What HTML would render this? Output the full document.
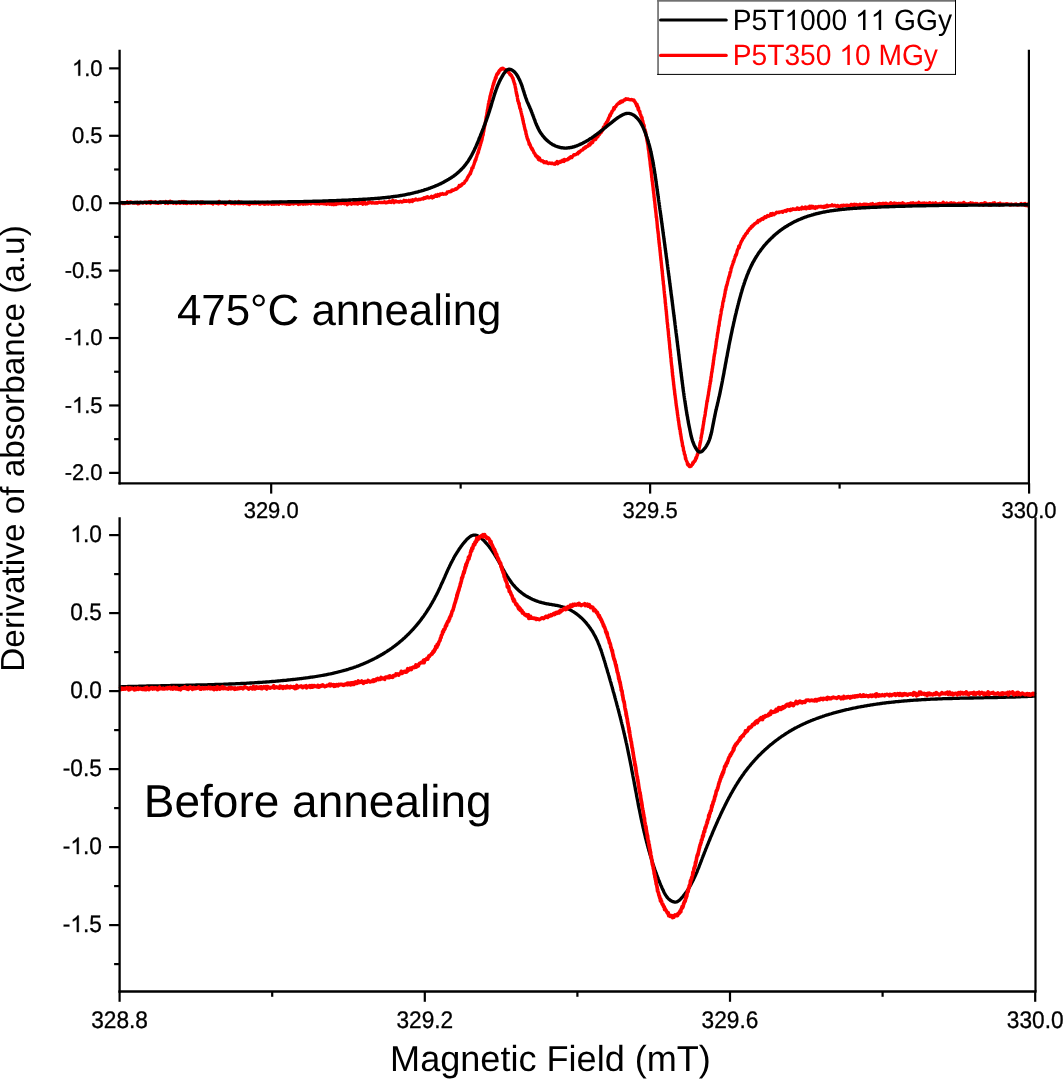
<!DOCTYPE html>
<html><head><meta charset="utf-8"><title>EPR spectra</title>
<style>
html,body{margin:0;padding:0;background:#fff;}
body{width:1063px;height:1079px;overflow:hidden;font-family:"Liberation Sans", sans-serif;}
svg{display:block;will-change:transform;}
text{font-kerning:none;font-feature-settings:"kern" 0;text-rendering:geometricPrecision;}
</style></head><body>
<svg width="1063" height="1079" viewBox="0 0 1063 1079" font-family='"Liberation Sans", sans-serif' fill="#000"><path d="M119.0,202.9L119.7,203.3L120.4,202.9L121.1,202.8L121.8,202.4L122.5,202.8L123.2,203.5L123.9,203.2L124.6,203.5L125.3,203.0L126.0,203.1L126.7,203.0L127.4,201.9L128.1,203.3L128.8,203.1L129.5,203.1L130.2,201.9L130.9,201.9L131.6,202.3L132.3,202.5L133.0,203.0L133.7,202.8L134.4,203.1L135.1,202.4L135.8,202.9L136.5,203.0L137.2,202.4L137.9,203.7L138.6,203.0L139.3,203.4L140.0,202.4L140.7,202.3L141.4,202.5L142.1,202.6L142.8,203.0L143.5,202.8L144.2,202.4L144.9,202.1L145.6,202.4L146.3,203.3L147.0,202.2L147.7,202.8L148.4,202.9L149.1,201.8L149.8,202.7L150.5,203.4L151.2,201.5L151.9,202.4L152.6,202.6L153.3,202.2L154.0,202.9L154.7,202.6L155.4,201.8L156.1,203.1L156.8,203.0L157.5,203.1L158.2,203.4L158.9,202.8L159.6,202.7L160.3,201.9L161.0,202.9L161.7,202.3L162.4,202.3L163.1,201.9L163.8,202.1L164.5,202.3L165.2,203.3L165.9,201.5L166.6,201.8L167.3,202.7L168.0,203.4L168.7,202.9L169.4,201.5L170.1,201.2L170.8,202.8L171.5,202.2L172.2,202.0L172.9,203.1L173.6,203.2L174.3,202.7L175.0,202.7L175.7,202.8L176.4,203.5L177.1,202.9L177.8,202.9L178.5,202.9L179.2,201.7L179.9,203.3L180.6,203.1L181.3,202.9L182.0,201.5L182.7,202.3L183.4,203.1L184.1,201.6L184.8,202.5L185.5,203.2L186.2,201.9L186.9,203.5L187.6,202.9L188.4,202.5L189.1,202.8L189.8,203.0L190.5,202.7L191.2,203.3L191.9,202.3L192.6,202.4L193.3,203.2L194.0,202.7L194.7,202.2L195.4,203.2L196.1,203.5L196.8,202.4L197.5,201.9L198.2,202.6L198.9,202.6L199.6,202.5L200.3,203.5L201.0,202.1L201.7,203.4L202.4,202.0L203.1,202.3L203.8,203.1L204.5,203.3L205.2,203.2L205.9,202.9L206.6,202.8L207.3,202.8L208.0,203.1L208.7,202.7L209.4,202.9L210.1,203.1L210.8,202.8L211.5,203.2L212.2,203.1L212.9,203.9L213.6,203.0L214.3,202.6L215.0,202.6L215.7,202.8L216.4,203.3L217.1,202.6L217.8,203.0L218.5,203.8L219.2,201.4L219.9,202.2L220.6,203.0L221.3,203.1L222.0,203.0L222.7,202.6L223.4,203.2L224.1,203.0L224.8,202.6L225.5,204.2L226.2,203.1L226.9,202.6L227.6,202.9L228.3,202.8L229.0,202.9L229.7,201.5L230.4,202.7L231.1,203.5L231.8,202.3L232.5,202.9L233.2,203.5L233.9,203.4L234.6,203.8L235.3,202.1L236.0,202.8L236.7,202.8L237.4,203.4L238.1,203.6L238.8,201.6L239.5,203.6L240.2,202.2L240.9,203.4L241.6,202.2L242.3,203.2L243.0,203.7L243.7,203.0L244.4,203.2L245.1,203.5L245.8,203.2L246.5,203.0L247.2,203.9L247.9,203.7L248.6,203.0L249.3,204.6L250.0,202.5L250.7,203.6L251.4,203.0L252.1,203.2L252.8,203.5L253.5,203.3L254.2,203.5L254.9,202.3L255.6,202.4L256.3,203.5L257.0,202.7L257.7,202.6L258.4,202.4L259.1,203.9L259.8,203.6L260.5,204.0L261.2,202.7L261.9,203.2L262.6,202.6L263.3,203.7L264.0,204.1L264.7,202.8L265.4,204.1L266.1,203.8L266.8,203.2L267.5,202.2L268.2,204.1L268.9,203.2L269.6,203.0L270.3,203.5L271.0,203.5L271.7,204.1L272.4,202.8L273.1,204.0L273.8,204.2L274.5,204.1L275.2,203.2L275.9,202.9L276.6,203.9L277.3,203.4L278.0,203.4L278.7,204.2L279.4,203.2L280.1,202.1L280.8,203.2L281.5,202.4L282.2,203.8L282.9,203.6L283.6,203.1L284.3,203.4L285.0,203.9L285.7,203.5L286.4,204.1L287.1,203.4L287.8,204.0L288.5,204.2L289.2,204.3L289.9,203.1L290.6,203.9L291.3,202.4L292.0,202.9L292.7,202.4L293.4,204.0L294.1,202.8L294.8,203.5L295.5,203.4L296.2,203.4L296.9,203.1L297.6,203.6L298.3,204.5L299.0,203.5L299.7,203.8L300.4,204.0L301.1,203.4L301.8,202.8L302.5,203.2L303.2,204.1L303.9,202.6L304.6,203.2L305.3,204.0L306.0,203.9L306.7,203.5L307.4,203.9L308.1,203.6L308.8,202.8L309.5,202.6L310.2,203.1L310.9,204.0L311.6,203.2L312.3,203.0L313.0,203.1L313.7,202.6L314.4,203.4L315.1,202.8L315.8,203.7L316.5,202.2L317.2,203.7L317.9,203.1L318.6,202.4L319.3,203.9L320.0,203.3L320.7,202.2L321.4,203.0L322.1,203.6L322.8,203.2L323.5,203.9L324.2,203.9L324.9,203.8L325.6,203.6L326.3,204.2L327.0,203.8L327.7,203.7L328.4,202.3L329.1,203.9L329.8,204.2L330.5,203.3L331.2,203.2L331.9,204.5L332.6,202.5L333.3,203.7L334.0,204.7L334.7,202.9L335.4,203.8L336.1,204.4L336.8,203.3L337.5,203.7L338.2,203.9L338.9,202.9L339.6,203.3L340.3,203.5L341.0,203.8L341.7,203.3L342.4,203.2L343.1,202.8L343.8,203.1L344.5,203.8L345.2,203.4L345.9,202.8L346.6,202.8L347.3,204.7L348.0,203.9L348.7,203.6L349.4,201.8L350.1,203.6L350.8,203.5L351.5,204.1L352.2,203.4L352.9,203.2L353.6,203.5L354.3,202.1L355.0,203.7L355.7,203.3L356.4,202.8L357.1,203.9L357.8,204.1L358.5,202.3L359.2,202.7L359.9,203.2L360.6,203.2L361.3,202.8L362.0,202.5L362.7,204.2L363.4,203.6L364.1,202.3L364.8,202.2L365.5,203.9L366.2,203.5L366.9,203.9L367.6,203.4L368.3,202.4L369.0,203.0L369.7,201.7L370.4,202.4L371.1,202.8L371.8,203.1L372.5,202.4L373.2,202.7L373.9,203.0L374.6,202.9L375.3,203.1L376.0,202.8L376.7,202.5L377.4,203.1L378.1,202.6L378.8,202.1L379.5,202.2L380.2,202.5L380.9,202.4L381.6,202.6L382.3,202.4L383.0,202.5L383.7,202.3L384.4,201.7L385.1,202.5L385.8,202.9L386.5,202.5L387.2,202.1L387.9,202.4L388.6,201.6L389.3,201.0L390.0,202.1L390.7,201.5L391.4,202.4L392.1,201.3L392.8,200.4L393.5,201.3L394.2,202.6L394.9,201.5L395.6,200.9L396.3,201.2L397.0,201.9L397.7,201.8L398.4,201.6L399.1,202.2L399.8,201.7L400.5,201.3L401.2,201.6L401.9,202.1L402.6,201.6L403.3,201.6L404.0,200.4L404.7,200.8L405.4,201.3L406.1,200.6L406.8,201.3L407.5,201.0L408.1,201.1L408.8,200.4L409.5,201.8L410.2,201.0L410.9,200.1L411.6,200.2L412.3,201.5L413.0,199.8L413.7,200.4L414.4,200.4L415.1,199.7L415.8,199.0L416.5,199.7L417.2,199.7L417.8,200.0L418.5,199.7L419.2,199.2L419.9,199.5L420.6,199.3L421.3,199.0L422.0,198.8L422.7,198.5L423.4,198.9L424.1,197.8L424.7,197.9L425.4,198.2L426.1,197.3L426.8,197.7L427.5,196.7L428.2,197.3L428.9,197.9L429.6,197.7L430.2,197.3L430.9,197.0L431.6,196.2L432.3,197.9L433.0,197.0L433.7,197.2L434.3,196.0L435.0,196.2L435.7,195.1L436.4,196.4L437.1,196.3L437.8,194.6L438.4,195.5L439.1,195.7L439.8,194.2L440.5,193.9L441.1,194.2L441.8,194.2L442.5,193.6L443.2,194.2L443.8,194.1L444.5,194.1L445.2,193.9L445.9,194.1L446.5,193.7L447.2,192.1L447.9,192.3L448.5,191.8L449.2,191.5L449.9,191.8L450.5,191.6L451.2,191.6L451.8,190.1L452.5,190.0L453.1,190.4L453.8,190.0L454.4,189.6L455.0,189.5L455.6,188.7L456.3,189.2L456.9,188.7L457.5,188.1L458.1,187.4L458.6,187.3L459.2,185.6L459.8,186.0L460.3,186.2L460.9,184.9L461.4,185.4L461.9,185.0L462.5,183.7L463.0,183.8L463.4,183.3L463.9,183.3L464.4,182.8L464.8,182.0L465.2,181.0L465.7,180.8L466.1,180.3L466.5,180.2L466.8,179.4L467.2,178.3L467.6,177.3L467.9,177.3L468.3,176.5L468.6,175.7L468.9,175.6L469.3,174.8L469.6,174.5L469.9,174.1L470.2,172.9L470.5,173.8L470.8,171.7L471.0,171.8L471.3,170.6L471.6,170.5L471.9,167.9L472.1,168.2L472.4,168.0L472.7,167.6L472.9,167.9L473.2,166.1L473.4,166.0L473.7,165.0L474.0,164.5L474.2,163.6L474.5,162.5L474.7,162.2L475.0,160.7L475.2,161.3L475.4,159.4L475.7,159.4L475.9,159.8L476.2,157.8L476.4,157.3L476.6,157.2L476.9,155.9L477.1,154.8L477.3,154.7L477.5,154.2L477.8,153.6L478.0,152.2L478.2,152.9L478.4,152.2L478.6,150.6L478.8,150.0L479.0,149.0L479.2,149.3L479.5,147.5L479.7,147.6L479.9,146.3L480.0,145.5L480.2,145.6L480.4,145.2L480.6,143.8L480.8,142.8L481.0,142.9L481.2,141.8L481.4,141.3L481.5,141.3L481.7,140.4L481.9,138.8L482.0,139.7L482.2,137.8L482.4,137.5L482.5,136.1L482.7,135.7L482.9,134.1L483.0,135.4L483.2,134.5L483.3,132.4L483.5,131.5L483.6,130.8L483.7,131.7L483.9,130.1L484.0,129.6L484.1,128.8L484.3,128.2L484.4,127.0L484.5,127.0L484.7,125.5L484.8,125.5L484.9,125.1L485.0,124.5L485.2,123.4L485.3,122.4L485.4,122.3L485.5,121.2L485.6,121.7L485.8,120.6L485.9,119.4L486.0,118.5L486.1,117.7L486.2,116.9L486.3,116.6L486.5,116.2L486.6,115.7L486.7,115.0L486.8,115.2L486.9,113.0L487.0,112.7L487.2,113.4L487.3,110.3L487.4,110.3L487.5,110.0L487.6,109.3L487.8,108.8L487.9,107.7L488.0,107.4L488.1,106.5L488.3,106.2L488.4,104.1L488.5,103.9L488.6,103.7L488.8,102.5L488.9,101.8L489.0,102.0L489.2,100.6L489.3,100.6L489.5,100.0L489.6,99.1L489.8,98.5L489.9,97.5L490.1,96.1L490.2,96.1L490.4,95.7L490.6,94.5L490.7,94.0L490.9,93.8L491.1,92.2L491.2,92.3L491.4,92.3L491.6,90.3L491.8,90.0L492.0,89.1L492.2,89.3L492.4,88.0L492.6,87.6L492.8,86.0L493.0,85.7L493.2,85.0L493.5,83.3L493.7,84.4L493.9,83.4L494.2,81.2L494.4,81.9L494.6,80.7L494.9,80.3L495.1,79.5L495.4,77.8L495.7,77.8L496.0,78.0L496.2,76.2L496.5,75.2L496.8,74.4L497.1,73.8L497.4,74.0L497.8,74.1L498.1,72.8L498.4,72.1L498.8,72.7L499.2,70.7L499.6,70.2L500.0,70.4L500.4,70.1L500.8,68.9L501.3,68.6L501.8,69.3L502.2,69.1L502.8,68.2L503.3,68.9L503.8,68.8L504.4,69.5L505.0,69.5L505.5,69.8L506.1,70.0L506.7,71.1L507.2,71.7L507.7,71.2L508.2,72.3L508.7,71.9L509.2,72.9L509.6,73.7L510.0,74.7L510.4,74.2L510.8,74.9L511.2,75.7L511.5,75.3L511.9,76.8L512.2,77.0L512.5,78.2L512.8,78.0L513.0,78.2L513.3,80.0L513.5,80.8L513.8,81.0L514.0,82.5L514.2,82.6L514.4,83.1L514.6,84.4L514.8,84.0L515.0,85.3L515.2,86.4L515.3,87.6L515.5,87.8L515.6,88.8L515.8,89.0L515.9,90.2L516.1,91.7L516.2,91.2L516.4,93.6L516.5,92.7L516.7,93.8L516.8,94.6L516.9,95.8L517.1,95.3L517.2,95.5L517.4,97.7L517.5,98.5L517.7,99.1L517.8,100.9L518.0,100.3L518.2,101.0L518.3,102.0L518.5,102.4L518.7,103.7L518.8,102.8L519.0,103.9L519.2,103.4L519.3,105.9L519.5,105.9L519.7,107.3L519.9,108.6L520.0,108.1L520.2,108.6L520.4,109.1L520.6,109.5L520.7,110.3L520.9,111.6L521.1,112.0L521.2,112.6L521.4,113.2L521.6,114.4L521.7,114.8L521.9,115.2L522.0,116.3L522.2,116.5L522.3,116.6L522.5,118.7L522.6,118.9L522.8,118.8L522.9,120.6L523.1,120.8L523.2,120.5L523.4,122.9L523.5,122.9L523.7,123.9L523.8,124.2L524.0,124.7L524.1,124.6L524.3,126.7L524.4,126.8L524.6,127.4L524.8,128.4L524.9,128.9L525.1,130.0L525.3,130.1L525.4,130.9L525.6,130.5L525.8,132.1L526.0,133.4L526.1,134.4L526.3,134.2L526.5,135.0L526.7,136.6L526.9,136.3L527.1,137.5L527.3,138.7L527.5,138.5L527.8,139.8L528.0,139.4L528.2,140.6L528.5,141.1L528.7,141.9L529.0,143.1L529.2,144.4L529.5,143.4L529.8,144.1L530.0,145.3L530.3,145.1L530.6,146.6L530.9,147.3L531.2,147.5L531.5,148.5L531.9,148.0L532.2,149.9L532.5,149.3L532.9,150.3L533.3,151.0L533.6,151.7L534.0,153.0L534.4,153.2L534.8,153.5L535.2,154.6L535.6,155.7L536.1,155.4L536.5,156.1L537.0,157.2L537.4,157.2L537.9,156.8L538.4,159.4L538.9,159.7L539.4,157.9L539.9,159.4L540.5,160.1L541.0,160.8L541.6,161.0L542.2,160.9L542.7,160.8L543.3,161.8L543.9,162.6L544.5,161.7L545.2,162.0L545.8,162.7L546.5,161.9L547.1,163.0L547.8,163.0L548.5,163.6L549.2,163.1L549.9,163.0L550.6,163.3L551.4,163.5L552.1,163.1L552.8,163.5L553.5,163.8L554.2,164.0L554.9,164.2L555.7,162.7L556.4,162.8L557.1,161.5L557.8,163.7L558.5,162.1L559.1,162.3L559.8,162.4L560.5,161.2L561.2,162.0L561.8,161.5L562.5,160.2L563.1,161.2L563.8,161.4L564.4,159.4L565.1,160.6L565.7,160.0L566.4,159.8L567.0,159.5L567.6,159.7L568.3,158.5L568.9,158.8L569.5,157.8L570.1,158.0L570.7,156.8L571.3,156.9L571.9,157.5L572.5,156.5L573.1,155.8L573.7,154.9L574.3,154.7L574.9,154.9L575.5,154.9L576.1,154.3L576.7,154.0L577.3,153.3L577.9,153.7L578.4,152.3L579.0,151.8L579.6,152.2L580.2,151.4L580.7,150.8L581.3,150.3L581.9,150.0L582.4,150.1L583.0,149.5L583.6,148.3L584.1,148.7L584.7,148.2L585.3,147.1L585.8,147.7L586.4,146.7L586.9,146.2L587.4,146.4L588.0,146.2L588.5,144.7L589.1,144.8L589.6,143.7L590.1,144.9L590.6,142.9L591.2,143.4L591.7,141.9L592.2,142.2L592.7,142.5L593.2,139.4L593.7,140.1L594.2,140.1L594.7,139.3L595.2,138.5L595.7,139.5L596.2,137.9L596.6,136.4L597.1,137.3L597.6,135.3L598.0,136.4L598.5,134.9L598.9,134.8L599.4,134.8L599.8,133.6L600.2,132.3L600.6,131.5L601.1,132.6L601.5,131.7L601.9,130.3L602.3,130.7L602.7,129.9L603.0,129.4L603.4,127.2L603.8,127.7L604.2,127.7L604.5,127.0L604.9,126.5L605.2,124.0L605.5,124.8L605.9,124.4L606.2,124.9L606.5,122.3L606.8,122.0L607.1,121.6L607.5,121.4L607.8,120.0L608.1,120.2L608.4,118.5L608.7,118.5L609.0,117.4L609.3,117.1L609.6,116.0L609.9,114.9L610.3,115.7L610.6,114.6L610.9,113.5L611.2,113.3L611.6,113.1L611.9,111.4L612.3,111.3L612.6,111.0L613.0,110.4L613.4,109.4L613.8,107.8L614.2,109.1L614.6,108.0L615.0,107.3L615.5,106.6L615.9,106.4L616.4,105.5L616.9,104.6L617.4,104.3L617.9,103.9L618.4,103.4L619.0,102.7L619.6,103.2L620.1,101.7L620.7,102.4L621.4,101.1L622.0,101.5L622.6,101.7L623.3,100.7L623.9,99.9L624.6,100.1L625.2,99.9L625.9,98.7L626.5,99.1L627.2,99.4L627.8,99.0L628.5,99.2L629.1,99.6L629.7,99.6L630.3,99.8L630.9,99.7L631.4,99.4L632.0,99.7L632.5,99.8L633.0,100.1L633.5,100.6L634.0,100.1L634.4,101.3L634.8,102.0L635.2,102.0L635.6,103.1L636.0,104.0L636.3,104.2L636.6,106.1L637.0,104.2L637.3,106.2L637.6,105.9L637.9,108.2L638.2,109.8L638.5,107.7L638.7,109.8L639.0,110.7L639.3,111.0L639.6,112.1L639.8,111.3L640.1,113.7L640.3,114.1L640.6,114.6L640.8,115.0L641.1,116.3L641.3,116.4L641.5,117.5L641.7,117.8L642.0,117.5L642.2,119.4L642.4,120.3L642.6,121.3L642.8,121.0L643.0,122.2L643.2,123.3L643.4,123.7L643.6,125.0L643.8,126.1L643.9,125.2L644.1,125.3L644.3,127.5L644.5,128.6L644.6,129.0L644.8,129.6L645.0,129.5L645.1,130.1L645.3,131.7L645.4,131.4L645.6,131.6L645.7,132.7L645.9,135.3L646.0,135.7L646.1,135.0L646.3,135.6L646.4,136.9L646.5,137.0L646.7,138.8L646.8,138.8L646.9,138.9L647.0,140.9L647.1,140.5L647.3,141.7L647.4,142.2L647.5,142.8L647.6,143.8L647.7,143.9L647.8,144.0L647.9,144.5L648.0,145.7L648.1,146.6L648.2,147.7L648.3,148.5L648.4,149.4L648.5,149.9L648.6,150.1L648.7,150.8L648.8,150.7L648.9,152.5L649.0,153.5L649.1,154.2L649.2,154.6L649.2,155.2L649.3,156.5L649.4,156.7L649.5,157.8L649.6,158.4L649.7,158.9L649.8,160.2L649.8,159.8L649.9,160.6L650.0,161.1L650.1,161.8L650.2,163.8L650.3,164.6L650.3,164.3L650.4,165.3L650.5,166.3L650.6,166.8L650.7,167.7L650.7,167.0L650.8,168.1L650.9,169.4L651.0,170.6L651.1,170.6L651.2,170.7L651.2,171.7L651.3,172.2L651.4,172.8L651.5,174.8L651.6,174.3L651.6,175.4L651.7,177.2L651.8,177.4L651.9,177.6L652.0,177.8L652.0,179.0L652.1,180.4L652.2,180.5L652.3,181.6L652.4,181.6L652.5,182.6L652.5,182.8L652.6,183.9L652.7,185.1L652.8,184.2L652.9,185.7L652.9,186.6L653.0,186.8L653.1,187.6L653.2,188.9L653.3,190.3L653.3,190.2L653.4,190.8L653.5,190.4L653.6,193.0L653.6,192.7L653.7,193.3L653.8,193.4L653.9,194.7L654.0,194.8L654.0,196.2L654.1,197.1L654.2,197.5L654.3,198.4L654.4,198.4L654.4,200.4L654.5,199.9L654.6,200.0L654.7,201.6L654.8,202.0L654.8,202.5L654.9,203.6L655.0,204.6L655.1,204.5L655.1,205.8L655.2,207.3L655.3,207.6L655.4,207.9L655.5,208.7L655.5,209.3L655.6,210.0L655.7,211.1L655.8,211.4L655.8,210.8L655.9,212.8L656.0,213.0L656.1,214.6L656.1,214.6L656.2,215.7L656.3,217.5L656.4,216.4L656.5,217.1L656.5,217.6L656.6,217.8L656.7,218.7L656.8,220.7L656.8,220.8L656.9,220.8L657.0,221.7L657.1,223.6L657.1,223.5L657.2,224.4L657.3,225.5L657.4,226.8L657.4,227.8L657.5,228.0L657.6,228.2L657.7,228.9L657.8,230.5L657.8,231.0L657.9,230.7L658.0,231.9L658.1,232.5L658.1,233.0L658.2,233.4L658.3,233.7L658.4,234.8L658.4,234.9L658.5,237.2L658.6,237.5L658.7,237.2L658.7,239.3L658.8,239.8L658.9,238.9L659.0,241.7L659.0,241.8L659.1,243.2L659.2,242.1L659.3,243.8L659.3,244.4L659.4,245.0L659.5,245.6L659.5,246.8L659.6,246.1L659.7,247.0L659.8,247.6L659.8,248.7L659.9,249.4L660.0,250.6L660.1,251.3L660.1,251.8L660.2,252.2L660.3,253.0L660.4,254.4L660.4,255.0L660.5,255.4L660.6,255.8L660.7,257.6L660.7,257.1L660.8,258.5L660.9,259.4L660.9,259.4L661.0,260.7L661.1,260.3L661.2,262.2L661.2,262.4L661.3,262.1L661.4,264.1L661.5,263.9L661.5,265.8L661.6,265.4L661.7,266.4L661.7,267.3L661.8,267.7L661.9,268.7L662.0,269.0L662.0,270.3L662.1,270.7L662.2,271.5L662.3,270.6L662.3,273.4L662.4,273.5L662.5,273.2L662.5,274.9L662.6,275.8L662.7,276.8L662.8,276.4L662.8,278.5L662.9,278.3L663.0,280.4L663.0,279.7L663.1,280.8L663.2,280.9L663.3,281.2L663.3,283.1L663.4,283.7L663.5,284.8L663.5,285.1L663.6,285.0L663.7,285.1L663.8,286.4L663.8,287.1L663.9,287.7L664.0,289.1L664.0,289.7L664.1,290.1L664.2,291.0L664.3,291.5L664.3,292.4L664.4,293.4L664.5,294.2L664.5,294.0L664.6,294.3L664.7,296.6L664.8,296.6L664.8,297.8L664.9,297.0L665.0,298.4L665.0,299.3L665.1,299.2L665.2,300.4L665.2,301.8L665.3,302.7L665.4,303.7L665.5,303.0L665.5,303.4L665.6,305.2L665.7,306.1L665.7,306.4L665.8,306.2L665.9,308.1L665.9,308.8L666.0,309.4L666.1,309.5L666.2,310.6L666.2,311.6L666.3,311.5L666.4,311.5L666.4,313.4L666.5,314.2L666.6,314.6L666.6,315.8L666.7,315.7L666.8,316.7L666.8,317.3L666.9,318.4L667.0,319.7L667.1,319.4L667.1,321.3L667.2,321.7L667.3,322.0L667.3,322.6L667.4,324.0L667.5,323.6L667.5,324.3L667.6,324.5L667.7,326.0L667.7,327.2L667.8,327.5L667.9,328.1L668.0,328.5L668.0,329.4L668.1,329.2L668.2,331.2L668.2,331.1L668.3,331.4L668.4,332.3L668.4,333.0L668.5,334.6L668.6,335.4L668.6,334.8L668.7,336.7L668.8,337.4L668.8,337.3L668.9,337.5L669.0,338.6L669.0,339.3L669.1,340.6L669.2,340.9L669.3,340.7L669.3,342.6L669.4,342.3L669.5,344.4L669.5,343.9L669.6,344.9L669.7,345.5L669.7,346.4L669.8,348.1L669.9,348.5L669.9,349.1L670.0,349.6L670.1,349.3L670.2,350.5L670.2,351.2L670.3,351.7L670.4,353.2L670.4,353.2L670.5,353.9L670.6,354.4L670.6,354.6L670.7,356.7L670.8,357.8L670.9,357.9L670.9,357.9L671.0,357.7L671.1,359.9L671.1,361.2L671.2,361.4L671.3,362.4L671.4,363.4L671.4,363.9L671.5,363.8L671.6,365.3L671.7,365.8L671.7,365.3L671.8,366.6L671.9,366.7L671.9,368.1L672.0,369.2L672.1,369.0L672.2,369.1L672.2,371.7L672.3,371.9L672.4,373.2L672.5,372.3L672.5,374.3L672.6,375.6L672.7,376.2L672.8,375.7L672.9,376.7L672.9,377.1L673.0,378.5L673.1,379.2L673.2,379.4L673.2,379.3L673.3,381.1L673.4,381.1L673.5,382.4L673.6,382.9L673.6,384.4L673.7,384.8L673.8,384.6L673.9,385.8L674.0,387.2L674.0,386.7L674.1,387.9L674.2,389.0L674.3,389.7L674.4,390.0L674.5,389.7L674.5,390.4L674.6,392.0L674.7,392.7L674.8,394.6L674.9,393.5L675.0,395.2L675.1,395.7L675.1,395.1L675.2,396.3L675.3,397.5L675.4,397.8L675.5,398.7L675.6,399.8L675.7,399.8L675.8,401.1L675.9,401.2L675.9,402.0L676.0,403.3L676.1,403.4L676.2,404.5L676.3,406.0L676.4,405.8L676.5,406.4L676.6,407.6L676.7,407.7L676.8,409.2L676.9,408.6L677.0,410.3L677.1,410.4L677.2,410.9L677.3,413.0L677.4,412.3L677.5,414.4L677.6,414.5L677.7,415.6L677.8,415.0L677.9,416.9L678.0,417.7L678.1,417.6L678.2,418.3L678.3,420.4L678.4,419.8L678.5,420.2L678.6,420.8L678.7,422.1L678.8,422.7L678.9,423.3L679.0,424.8L679.1,424.4L679.2,425.5L679.3,426.8L679.4,426.1L679.5,427.9L679.6,429.0L679.8,428.0L679.9,428.8L680.0,429.5L680.1,429.7L680.2,431.7L680.3,431.1L680.4,433.0L680.5,434.2L680.6,433.2L680.7,434.6L680.8,434.4L681.0,436.5L681.1,436.4L681.2,437.3L681.3,438.1L681.4,439.1L681.5,439.2L681.6,440.1L681.8,440.4L681.9,441.5L682.0,441.4L682.1,442.8L682.2,442.3L682.4,443.8L682.5,445.8L682.6,445.5L682.8,445.5L682.9,447.0L683.1,447.0L683.2,447.3L683.4,448.6L683.5,450.1L683.7,450.7L683.9,451.1L684.1,451.4L684.2,452.1L684.4,454.2L684.6,454.4L684.8,454.6L685.0,454.7L685.2,456.0L685.5,458.9L685.7,457.7L685.9,459.1L686.2,460.1L686.4,460.7L686.7,461.4L686.9,461.5L687.2,462.3L687.5,464.5L687.8,463.7L688.1,465.1L688.4,464.2L688.7,465.4L689.1,466.0L689.4,466.6L689.7,465.6L690.1,466.5L690.5,466.4L690.9,465.6L691.3,466.0L691.7,464.9L692.0,464.6L692.4,464.6L692.8,462.6L693.2,463.4L693.6,462.3L694.0,461.5L694.4,461.4L694.8,461.3L695.1,460.0L695.4,460.2L695.8,458.2L696.1,457.4L696.4,458.3L696.7,456.9L696.9,456.5L697.2,454.8L697.4,455.0L697.7,454.0L697.9,453.5L698.1,452.5L698.3,452.5L698.5,450.7L698.7,449.9L698.9,448.9L699.0,449.6L699.2,447.9L699.4,447.0L699.5,446.4L699.7,445.9L699.8,444.8L699.9,444.6L700.1,443.7L700.2,443.1L700.3,442.2L700.5,442.0L700.6,441.1L700.7,440.7L700.8,440.1L700.9,439.4L701.1,437.3L701.2,437.5L701.3,436.7L701.4,436.9L701.5,434.9L701.6,434.7L701.8,434.2L701.9,433.5L702.0,433.6L702.1,432.1L702.2,432.2L702.3,430.1L702.4,429.3L702.6,430.2L702.7,429.1L702.8,428.5L702.9,427.6L703.0,427.1L703.1,425.5L703.2,426.0L703.3,424.5L703.4,424.6L703.6,423.4L703.7,421.6L703.8,421.3L703.9,422.0L704.0,420.6L704.1,419.7L704.2,419.4L704.3,418.4L704.4,417.6L704.5,417.3L704.7,416.6L704.8,416.7L704.9,415.2L705.0,415.5L705.1,414.8L705.2,414.0L705.3,413.0L705.4,411.8L705.6,411.1L705.7,410.3L705.8,409.3L705.9,408.9L706.0,407.9L706.1,408.5L706.2,407.2L706.4,406.0L706.5,404.5L706.6,404.8L706.7,403.9L706.8,402.9L706.9,402.1L707.0,400.8L707.2,401.7L707.3,400.7L707.4,401.4L707.5,399.3L707.6,398.6L707.7,398.7L707.8,397.3L708.0,396.7L708.1,395.7L708.2,394.9L708.3,395.3L708.4,394.4L708.5,394.1L708.6,392.2L708.8,391.7L708.9,390.6L709.0,390.9L709.1,388.9L709.2,389.3L709.3,388.9L709.4,388.4L709.5,386.4L709.7,386.8L709.8,385.1L709.9,384.4L710.0,383.4L710.1,384.1L710.2,383.7L710.3,381.7L710.4,380.9L710.5,380.5L710.7,381.4L710.8,379.8L710.9,378.3L711.0,376.9L711.1,376.8L711.2,377.2L711.3,376.9L711.4,375.0L711.5,374.1L711.6,373.5L711.7,372.0L711.8,372.9L712.0,371.1L712.1,371.6L712.2,369.3L712.3,368.9L712.4,369.1L712.5,367.8L712.6,367.9L712.7,366.8L712.8,365.5L712.9,365.8L713.0,365.2L713.1,363.0L713.2,364.3L713.3,362.9L713.4,362.4L713.5,360.2L713.6,360.2L713.7,359.7L713.8,359.8L713.9,357.7L714.0,357.3L714.1,356.0L714.2,356.3L714.3,355.9L714.4,354.1L714.5,354.0L714.6,353.9L714.7,353.8L714.9,352.6L715.0,351.4L715.1,350.2L715.2,349.6L715.3,349.1L715.4,348.8L715.5,348.0L715.6,348.3L715.7,346.8L715.8,345.4L715.9,346.1L716.0,345.1L716.1,344.0L716.2,342.8L716.3,341.5L716.4,341.3L716.5,341.6L716.6,340.0L716.7,339.0L716.8,339.2L716.9,338.5L717.0,338.0L717.1,337.3L717.2,337.0L717.3,335.1L717.4,335.4L717.5,333.7L717.6,333.9L717.8,332.9L717.9,332.2L718.0,332.0L718.1,330.7L718.2,330.6L718.3,329.8L718.4,328.7L718.5,327.6L718.6,326.9L718.7,326.3L718.9,325.8L719.0,325.2L719.1,325.9L719.2,324.2L719.3,323.5L719.4,322.0L719.5,321.3L719.6,320.9L719.8,320.5L719.9,319.1L720.0,319.9L720.1,318.0L720.2,318.2L720.4,315.6L720.5,316.2L720.6,315.7L720.7,314.9L720.8,314.5L721.0,313.6L721.1,312.9L721.2,311.0L721.3,311.0L721.5,309.4L721.6,310.4L721.7,309.5L721.8,308.5L722.0,307.5L722.1,306.9L722.2,307.6L722.4,306.8L722.5,305.2L722.6,305.2L722.8,302.9L722.9,302.1L723.0,302.2L723.2,301.3L723.3,300.8L723.5,300.5L723.6,301.1L723.7,298.7L723.9,298.4L724.0,297.8L724.2,296.9L724.3,296.8L724.5,296.6L724.6,294.2L724.8,294.3L724.9,293.4L725.1,293.1L725.2,291.3L725.4,290.5L725.5,289.5L725.7,290.4L725.8,289.6L726.0,288.8L726.1,286.8L726.3,287.2L726.5,286.3L726.6,285.3L726.8,284.9L727.0,285.1L727.1,284.3L727.3,283.3L727.5,282.9L727.6,281.7L727.8,281.3L728.0,280.6L728.1,280.3L728.3,279.2L728.5,278.5L728.7,277.8L728.9,276.9L729.0,277.8L729.2,276.2L729.4,275.5L729.6,275.8L729.8,274.6L730.0,272.3L730.2,272.9L730.4,272.3L730.6,272.2L730.7,271.2L730.9,270.3L731.1,268.5L731.3,268.0L731.5,268.0L731.7,267.4L732.0,265.9L732.2,265.6L732.4,264.9L732.6,264.5L732.8,264.0L733.0,263.0L733.2,261.8L733.4,262.5L733.7,262.0L733.9,260.4L734.1,260.4L734.3,259.4L734.5,258.8L734.8,258.1L735.0,256.7L735.2,256.8L735.5,256.4L735.7,254.7L735.9,255.6L736.2,255.0L736.4,254.2L736.7,253.6L736.9,252.3L737.2,251.0L737.4,250.2L737.7,249.5L737.9,249.3L738.2,248.6L738.5,248.3L738.7,246.2L739.0,247.9L739.3,247.3L739.6,245.4L739.9,245.1L740.2,244.4L740.5,243.6L740.8,242.7L741.1,242.2L741.4,241.2L741.7,241.1L742.0,240.4L742.4,239.9L742.7,238.7L743.0,238.6L743.4,238.0L743.7,237.7L744.1,236.2L744.5,236.4L744.8,236.1L745.2,235.3L745.6,234.2L746.0,233.6L746.4,233.2L746.8,233.1L747.2,233.0L747.6,231.5L748.0,230.7L748.5,230.7L748.9,230.1L749.4,229.0L749.8,228.5L750.3,228.4L750.8,228.3L751.3,226.7L751.8,226.3L752.3,226.7L752.8,225.2L753.3,225.5L753.8,225.1L754.3,224.4L754.9,223.4L755.4,223.5L756.0,222.9L756.5,222.8L757.1,221.7L757.7,222.4L758.2,220.4L758.8,220.8L759.4,220.5L760.0,220.7L760.6,219.4L761.2,219.7L761.8,218.7L762.4,219.0L763.0,219.2L763.7,217.7L764.3,217.9L764.9,216.8L765.5,217.5L766.2,217.3L766.8,216.4L767.5,215.5L768.1,216.0L768.7,216.2L769.4,215.9L770.0,215.5L770.7,213.8L771.3,214.2L772.0,215.1L772.6,213.4L773.3,214.5L774.0,214.7L774.6,213.9L775.3,213.9L775.9,212.9L776.6,212.2L777.3,212.6L777.9,212.4L778.6,212.3L779.3,212.5L780.0,211.9L780.6,211.9L781.3,211.9L782.0,211.5L782.7,212.3L783.3,211.4L784.0,211.1L784.7,210.8L785.4,210.4L786.1,211.4L786.8,210.6L787.4,209.8L788.1,209.9L788.8,210.1L789.5,209.8L790.2,210.5L790.9,209.2L791.6,210.0L792.3,209.7L793.0,208.8L793.7,209.4L794.3,209.2L795.0,209.5L795.7,208.9L796.4,209.2L797.1,208.0L797.8,208.2L798.5,209.2L799.2,209.3L799.9,208.6L800.6,208.2L801.3,209.0L802.0,207.2L802.7,207.9L803.4,208.6L804.1,208.5L804.8,207.5L805.5,207.0L806.2,208.8L806.9,208.0L807.6,207.3L808.3,207.8L809.0,208.2L809.7,206.2L810.4,208.2L811.1,207.9L811.8,206.3L812.5,207.8L813.2,206.4L813.9,207.9L814.6,207.5L815.3,208.4L816.0,206.8L816.7,207.1L817.4,207.6L818.1,206.6L818.8,206.5L819.5,206.7L820.2,206.8L820.9,206.2L821.6,207.0L822.3,207.0L823.0,206.6L823.7,207.5L824.4,206.3L825.1,207.2L825.8,206.1L826.5,206.8L827.2,205.3L827.9,206.4L828.6,206.1L829.3,205.9L830.0,205.8L830.7,205.9L831.4,205.7L832.1,204.8L832.8,205.7L833.5,205.7L834.2,205.6L834.9,205.3L835.6,205.8L836.3,206.2L837.0,205.6L837.7,205.5L838.4,206.4L839.1,206.2L839.8,206.1L840.5,206.2L841.2,205.4L841.9,205.5L842.6,206.1L843.3,205.2L844.0,205.4L844.7,205.6L845.4,205.6L846.1,205.2L846.8,205.9L847.5,205.2L848.2,205.7L848.9,205.8L849.6,205.6L850.3,205.6L851.0,204.5L851.7,204.4L852.3,204.8L853.0,205.3L853.7,205.9L854.4,204.3L855.1,205.2L855.8,204.5L856.5,204.5L857.2,204.8L857.9,205.3L858.6,205.0L859.3,205.5L860.0,204.3L860.7,205.3L861.4,205.3L862.1,204.8L862.8,205.0L863.5,204.4L864.2,204.1L864.9,204.5L865.6,204.3L866.3,206.1L867.0,204.4L867.7,205.5L868.4,204.7L869.1,204.7L869.8,205.0L870.5,204.1L871.2,205.0L871.9,204.7L872.6,203.6L873.3,204.8L874.0,204.7L874.7,204.7L875.4,205.3L876.1,204.2L876.8,204.7L877.5,204.8L878.2,203.8L878.9,205.0L879.6,203.5L880.3,203.6L881.0,204.6L881.7,203.7L882.4,204.2L883.1,203.3L883.8,204.3L884.5,203.6L885.2,204.4L885.9,203.3L886.6,204.4L887.3,204.0L888.0,204.2L888.7,204.1L889.4,204.2L890.1,203.4L890.8,202.7L891.5,204.1L892.2,203.6L892.9,203.8L893.6,204.3L894.3,203.0L895.0,203.6L895.7,203.7L896.4,203.4L897.1,204.2L897.8,203.9L898.5,203.5L899.2,203.4L899.9,204.4L900.6,203.6L901.3,204.3L902.0,204.2L902.7,202.9L903.4,203.3L904.1,203.9L904.8,204.1L905.5,204.3L906.2,204.3L906.9,204.5L907.6,203.7L908.3,203.8L909.0,204.3L909.7,203.6L910.4,204.4L911.1,203.0L911.8,204.2L912.5,203.8L913.2,202.8L913.9,204.4L914.6,204.0L915.3,203.8L916.0,203.2L916.7,203.6L917.4,204.7L918.1,203.4L918.8,202.4L919.5,203.3L920.2,203.1L920.9,203.7L921.6,203.6L922.3,203.3L923.0,203.3L923.7,204.4L924.4,203.0L925.1,204.9L925.8,203.5L926.5,203.2L927.2,204.2L927.9,204.1L928.6,203.2L929.3,204.2L930.0,202.8L930.7,203.3L931.4,204.4L932.1,203.6L932.8,203.1L933.6,204.1L934.3,204.3L935.0,203.8L935.7,202.8L936.4,203.6L937.1,204.0L937.8,204.2L938.5,204.8L939.2,203.6L939.9,203.5L940.6,203.8L941.3,204.4L942.0,203.3L942.7,204.5L943.4,202.3L944.1,204.2L944.8,203.4L945.5,204.0L946.2,204.2L946.9,203.1L947.6,203.7L948.3,203.9L949.0,204.1L949.7,203.3L950.4,203.3L951.1,202.7L951.8,205.2L952.5,203.7L953.2,203.7L953.9,203.0L954.6,204.3L955.3,203.5L956.0,204.6L956.7,204.3L957.4,203.8L958.1,204.2L958.8,203.2L959.5,203.7L960.2,203.5L960.9,203.2L961.6,203.9L962.3,203.8L963.0,204.7L963.7,202.4L964.4,203.5L965.1,203.4L965.8,203.6L966.5,204.1L967.2,204.1L967.9,203.9L968.6,203.6L969.3,204.2L970.0,204.1L970.7,202.9L971.4,203.8L972.1,203.2L972.8,203.3L973.5,204.0L974.2,204.0L974.9,204.0L975.6,203.5L976.3,203.9L977.0,203.5L977.7,204.2L978.4,204.4L979.1,205.0L979.8,204.7L980.5,203.6L981.2,203.8L981.9,203.5L982.6,204.2L983.3,205.1L984.0,204.4L984.7,202.8L985.4,203.4L986.1,203.3L986.8,204.3L987.5,204.1L988.2,204.2L988.9,205.1L989.6,203.6L990.3,203.6L991.0,205.2L991.7,204.3L992.4,203.7L993.1,203.0L993.8,203.3L994.5,202.8L995.2,204.2L995.9,204.2L996.6,204.7L997.3,204.1L998.0,203.8L998.7,203.8L999.4,205.2L1000.1,203.2L1000.8,204.3L1001.5,204.2L1002.2,204.6L1002.9,204.0L1003.6,204.5L1004.3,204.7L1005.0,204.2L1005.7,204.0L1006.4,204.2L1007.1,203.8L1007.8,204.2L1008.5,204.1L1009.2,204.4L1009.9,205.1L1010.6,205.0L1011.3,204.1L1012.0,204.7L1012.7,204.5L1013.4,204.8L1014.1,204.4L1014.8,204.5L1015.5,204.1L1016.2,204.0L1016.9,204.9L1017.6,205.1L1018.3,204.8L1019.0,204.7L1019.7,204.6L1020.4,204.2L1021.1,203.5L1021.8,204.8L1022.5,204.6L1023.2,204.2L1023.9,203.9L1024.6,205.2L1025.3,203.5L1026.0,205.5L1026.7,204.9L1027.4,205.8L1028.1,204.1L1028.8,204.5L1029.5,204.3" fill="none" stroke="#f00" stroke-width="3.4" stroke-linejoin="round"/>
<path d="M119.0,202.8L120.0,202.7L121.0,202.7L122.0,202.7L123.0,202.7L124.0,202.7L125.0,202.7L126.0,202.6L127.0,202.6L128.0,202.6L129.0,202.6L130.0,202.6L131.0,202.6L132.0,202.6L133.0,202.6L134.0,202.5L135.0,202.5L136.0,202.5L137.0,202.5L138.0,202.5L139.0,202.5L140.0,202.5L141.0,202.5L142.0,202.5L143.0,202.5L144.0,202.4L145.0,202.4L146.0,202.4L147.0,202.4L148.0,202.4L149.0,202.4L150.0,202.4L151.0,202.4L152.0,202.4L153.0,202.4L154.0,202.4L155.0,202.4L156.0,202.4L157.0,202.4L158.0,202.4L159.1,202.3L160.1,202.3L161.1,202.3L162.1,202.3L163.1,202.3L164.1,202.3L165.1,202.3L166.1,202.3L167.1,202.3L168.1,202.3L169.1,202.3L170.1,202.3L171.1,202.3L172.1,202.3L173.1,202.3L174.1,202.3L175.1,202.3L176.1,202.3L177.1,202.3L178.1,202.3L179.1,202.3L180.1,202.3L181.1,202.3L182.1,202.3L183.1,202.3L184.1,202.3L185.1,202.3L186.1,202.3L187.1,202.3L188.1,202.3L189.1,202.3L190.1,202.3L191.1,202.3L192.1,202.3L193.1,202.3L194.1,202.3L195.1,202.3L196.1,202.3L197.1,202.3L198.1,202.3L199.1,202.3L200.1,202.3L201.1,202.3L202.1,202.3L203.1,202.3L204.1,202.3L205.1,202.3L206.1,202.3L207.1,202.3L208.1,202.3L209.1,202.3L210.1,202.3L211.1,202.3L212.1,202.3L213.1,202.3L214.1,202.3L215.1,202.3L216.1,202.3L217.1,202.3L218.1,202.3L219.1,202.3L220.1,202.3L221.1,202.3L222.1,202.3L223.1,202.3L224.1,202.3L225.1,202.3L226.1,202.3L227.1,202.3L228.1,202.3L229.1,202.3L230.1,202.3L231.1,202.3L232.1,202.3L233.1,202.3L234.1,202.3L235.1,202.3L236.1,202.2L237.1,202.2L238.1,202.2L239.1,202.2L240.1,202.2L241.1,202.2L242.1,202.2L243.1,202.2L244.1,202.2L245.1,202.2L246.1,202.2L247.1,202.2L248.1,202.2L249.1,202.2L250.1,202.2L251.1,202.2L252.1,202.2L253.1,202.2L254.1,202.2L255.1,202.2L256.1,202.2L257.1,202.2L258.1,202.2L259.1,202.2L260.1,202.1L261.1,202.1L262.1,202.1L263.1,202.1L264.1,202.1L265.1,202.1L266.1,202.1L267.1,202.1L268.1,202.1L269.1,202.1L270.1,202.1L271.1,202.1L272.1,202.0L273.1,202.0L274.1,202.0L275.1,202.0L276.1,202.0L277.1,202.0L278.1,202.0L279.1,202.0L280.1,202.0L281.1,201.9L282.1,201.9L283.1,201.9L284.1,201.9L285.1,201.9L286.1,201.9L287.1,201.9L288.1,201.8L289.1,201.8L290.1,201.8L291.1,201.8L292.1,201.8L293.1,201.8L294.1,201.7L295.1,201.7L296.1,201.7L297.1,201.7L298.1,201.7L299.1,201.7L300.1,201.6L301.1,201.6L302.1,201.6L303.1,201.6L304.1,201.5L305.1,201.5L306.1,201.5L307.1,201.5L308.1,201.5L309.1,201.4L310.1,201.4L311.1,201.4L312.1,201.4L313.1,201.3L314.1,201.3L315.1,201.3L316.1,201.2L317.1,201.2L318.1,201.2L319.1,201.2L320.1,201.1L321.1,201.1L322.1,201.1L323.1,201.0L324.1,201.0L325.1,201.0L326.1,200.9L327.1,200.9L328.1,200.9L329.1,200.8L330.1,200.8L331.1,200.8L332.1,200.7L333.1,200.7L334.1,200.7L335.1,200.6L336.1,200.6L337.1,200.5L338.1,200.5L339.1,200.5L340.1,200.4L341.1,200.4L342.1,200.3L343.1,200.3L344.1,200.3L345.1,200.2L346.1,200.2L347.1,200.1L348.1,200.1L349.1,200.0L350.1,200.0L351.1,199.9L352.1,199.9L353.1,199.8L354.1,199.8L355.1,199.7L356.1,199.7L357.1,199.6L358.1,199.6L359.1,199.5L360.1,199.5L361.1,199.4L362.1,199.4L363.1,199.3L364.1,199.3L365.1,199.2L366.1,199.1L367.1,199.1L368.1,199.0L369.1,198.9L370.1,198.9L371.1,198.8L372.1,198.7L373.1,198.7L374.1,198.6L375.1,198.5L376.1,198.4L377.1,198.4L378.1,198.3L379.1,198.2L380.1,198.1L381.1,198.0L382.1,197.9L383.1,197.8L384.1,197.7L385.1,197.6L386.1,197.5L387.1,197.4L388.1,197.3L389.1,197.2L390.1,197.1L391.1,196.9L392.1,196.8L393.0,196.7L394.0,196.5L395.0,196.4L396.0,196.3L397.0,196.1L398.0,196.0L399.0,195.8L400.0,195.7L400.9,195.5L401.9,195.3L402.9,195.1L403.9,195.0L404.9,194.8L405.8,194.6L406.8,194.4L407.8,194.2L408.8,194.0L409.8,193.8L410.7,193.6L411.7,193.4L412.7,193.2L413.6,192.9L414.6,192.7L415.6,192.4L416.6,192.2L417.5,192.0L418.5,191.7L419.4,191.4L420.4,191.2L421.4,190.9L422.3,190.6L423.3,190.3L424.2,190.0L425.2,189.7L426.2,189.4L427.1,189.1L428.1,188.8L429.0,188.4L430.0,188.1L430.9,187.7L431.9,187.4L432.8,187.0L433.7,186.7L434.7,186.3L435.6,185.9L436.5,185.5L437.5,185.1L438.4,184.7L439.3,184.3L440.2,183.9L441.1,183.4L442.0,183.0L442.9,182.5L443.8,182.1L444.7,181.6L445.6,181.1L446.5,180.6L447.3,180.1L448.2,179.6L449.0,179.1L449.9,178.6L450.7,178.0L451.5,177.5L452.4,176.9L453.2,176.4L454.0,175.8L454.8,175.2L455.6,174.6L456.3,174.0L457.1,173.4L457.8,172.7L458.6,172.1L459.3,171.4L460.0,170.7L460.7,170.0L461.4,169.4L462.1,168.6L462.8,167.9L463.5,167.2L464.1,166.4L464.7,165.7L465.4,164.9L466.0,164.1L466.6,163.3L467.1,162.5L467.7,161.7L468.3,160.9L468.8,160.0L469.3,159.2L469.9,158.3L470.4,157.5L470.9,156.6L471.4,155.7L471.9,154.8L472.3,153.9L472.8,153.0L473.3,152.1L473.7,151.2L474.2,150.2L474.6,149.3L475.0,148.4L475.5,147.5L475.9,146.5L476.3,145.6L476.7,144.6L477.1,143.7L477.5,142.8L477.9,141.8L478.3,140.9L478.7,139.9L479.0,139.0L479.4,138.0L479.8,137.1L480.2,136.2L480.6,135.2L480.9,134.3L481.3,133.4L481.7,132.5L482.0,131.5L482.4,130.6L482.8,129.7L483.1,128.8L483.5,127.8L483.8,126.9L484.2,126.0L484.5,125.1L484.9,124.2L485.2,123.2L485.6,122.3L485.9,121.4L486.2,120.5L486.6,119.5L486.9,118.6L487.2,117.7L487.6,116.8L487.9,115.8L488.2,114.9L488.5,114.0L488.8,113.0L489.1,112.1L489.4,111.2L489.7,110.2L490.0,109.3L490.3,108.3L490.6,107.4L490.9,106.4L491.2,105.4L491.5,104.5L491.7,103.5L492.0,102.6L492.3,101.6L492.6,100.6L492.9,99.7L493.2,98.7L493.5,97.7L493.8,96.8L494.1,95.8L494.4,94.8L494.7,93.9L495.0,92.9L495.3,92.0L495.7,91.0L496.0,90.1L496.3,89.1L496.7,88.2L497.0,87.2L497.4,86.3L497.8,85.3L498.2,84.4L498.6,83.5L499.0,82.5L499.4,81.6L499.9,80.7L500.3,79.8L500.8,78.9L501.3,78.0L501.8,77.1L502.3,76.2L502.8,75.3L503.3,74.4L503.9,73.6L504.5,72.7L505.1,71.9L505.7,71.1L506.3,70.5L507.0,70.0L507.8,69.6L508.6,69.3L509.4,69.3L510.3,69.4L511.2,69.7L512.0,70.1L512.9,70.7L513.7,71.3L514.4,71.9L515.1,72.7L515.8,73.5L516.4,74.3L517.0,75.2L517.6,76.2L518.1,77.1L518.6,78.1L519.1,79.0L519.6,80.0L520.0,80.9L520.4,81.9L520.8,82.8L521.2,83.8L521.5,84.7L521.9,85.7L522.2,86.6L522.5,87.6L522.8,88.5L523.1,89.5L523.4,90.4L523.7,91.4L524.0,92.3L524.3,93.2L524.6,94.2L524.9,95.1L525.2,96.0L525.5,97.0L525.8,97.9L526.2,98.8L526.5,99.7L526.8,100.6L527.2,101.6L527.6,102.5L528.0,103.4L528.4,104.3L528.8,105.2L529.2,106.1L529.6,107.0L530.0,108.0L530.4,108.9L530.8,109.8L531.1,110.7L531.5,111.7L531.9,112.6L532.2,113.6L532.6,114.5L533.0,115.5L533.3,116.4L533.7,117.4L534.0,118.3L534.4,119.3L534.7,120.2L535.1,121.2L535.4,122.1L535.8,123.1L536.2,124.0L536.6,125.0L537.0,125.9L537.4,126.8L537.8,127.7L538.3,128.6L538.7,129.5L539.2,130.4L539.7,131.3L540.2,132.1L540.7,133.0L541.3,133.8L541.9,134.6L542.5,135.4L543.1,136.2L543.8,137.0L544.4,137.8L545.1,138.5L545.8,139.2L546.5,139.9L547.3,140.6L548.1,141.3L548.8,141.9L549.6,142.5L550.4,143.1L551.2,143.6L552.1,144.2L552.9,144.7L553.8,145.1L554.7,145.6L555.6,146.0L556.5,146.3L557.4,146.7L558.3,147.0L559.2,147.2L560.1,147.5L561.1,147.7L562.0,147.8L563.0,147.9L564.0,148.0L564.9,148.1L565.9,148.1L566.9,148.0L567.9,147.9L568.8,147.8L569.8,147.7L570.8,147.5L571.8,147.3L572.8,147.0L573.8,146.8L574.8,146.5L575.7,146.1L576.7,145.8L577.7,145.4L578.7,145.0L579.6,144.6L580.6,144.2L581.5,143.7L582.5,143.3L583.4,142.8L584.3,142.3L585.3,141.8L586.2,141.3L587.1,140.7L588.0,140.2L588.8,139.7L589.7,139.1L590.6,138.6L591.4,138.1L592.2,137.5L593.0,136.9L593.8,136.4L594.6,135.8L595.4,135.3L596.2,134.7L597.0,134.1L597.7,133.5L598.5,133.0L599.3,132.4L600.0,131.8L600.8,131.2L601.5,130.6L602.3,130.0L603.0,129.4L603.8,128.8L604.5,128.2L605.3,127.6L606.0,127.0L606.8,126.4L607.5,125.7L608.3,125.1L609.1,124.5L609.9,123.9L610.7,123.2L611.5,122.6L612.3,121.9L613.1,121.3L613.9,120.6L614.8,120.0L615.6,119.3L616.5,118.6L617.4,118.0L618.3,117.4L619.2,116.8L620.1,116.2L621.0,115.7L621.9,115.2L622.8,114.7L623.7,114.3L624.6,114.0L625.5,113.7L626.5,113.5L627.4,113.4L628.3,113.4L629.1,113.4L630.0,113.6L630.9,113.8L631.8,114.2L632.6,114.6L633.4,115.1L634.3,115.6L635.1,116.2L635.8,116.9L636.6,117.6L637.3,118.3L638.0,119.1L638.7,119.9L639.3,120.7L639.9,121.6L640.5,122.5L641.0,123.4L641.5,124.3L642.0,125.2L642.5,126.1L642.9,127.0L643.3,127.9L643.7,128.8L644.1,129.8L644.5,130.7L644.8,131.6L645.2,132.6L645.5,133.5L645.9,134.4L646.2,135.4L646.5,136.3L646.9,137.3L647.2,138.2L647.5,139.2L647.8,140.1L648.1,141.1L648.3,142.0L648.6,143.0L648.9,143.9L649.2,144.9L649.4,145.8L649.7,146.8L649.9,147.8L650.2,148.7L650.4,149.7L650.6,150.7L650.8,151.6L651.1,152.6L651.3,153.6L651.5,154.6L651.7,155.5L651.9,156.5L652.1,157.5L652.3,158.5L652.5,159.5L652.7,160.4L652.9,161.4L653.0,162.4L653.2,163.4L653.4,164.4L653.6,165.4L653.7,166.3L653.9,167.3L654.1,168.3L654.2,169.3L654.4,170.3L654.5,171.3L654.7,172.3L654.8,173.3L655.0,174.2L655.1,175.2L655.3,176.2L655.4,177.2L655.6,178.2L655.7,179.2L655.8,180.2L656.0,181.2L656.1,182.2L656.3,183.2L656.4,184.2L656.5,185.2L656.7,186.2L656.8,187.1L657.0,188.1L657.1,189.1L657.2,190.1L657.4,191.1L657.5,192.1L657.7,193.1L657.8,194.1L657.9,195.1L658.1,196.1L658.2,197.1L658.4,198.1L658.5,199.1L658.6,200.0L658.8,201.0L658.9,202.0L659.1,203.0L659.2,204.0L659.3,205.0L659.5,206.0L659.6,207.0L659.7,208.0L659.9,209.0L660.0,210.0L660.2,211.0L660.3,211.9L660.4,212.9L660.6,213.9L660.7,214.9L660.8,215.9L661.0,216.9L661.1,217.9L661.2,218.9L661.4,219.9L661.5,220.9L661.6,221.9L661.8,222.9L661.9,223.9L662.1,224.8L662.2,225.8L662.3,226.8L662.5,227.8L662.6,228.8L662.7,229.8L662.9,230.8L663.0,231.8L663.1,232.8L663.3,233.8L663.4,234.8L663.5,235.8L663.7,236.7L663.8,237.7L663.9,238.7L664.1,239.7L664.2,240.7L664.3,241.7L664.5,242.7L664.6,243.7L664.7,244.7L664.9,245.7L665.0,246.7L665.1,247.7L665.3,248.6L665.4,249.6L665.5,250.6L665.7,251.6L665.8,252.6L665.9,253.6L666.1,254.6L666.2,255.6L666.3,256.6L666.5,257.6L666.6,258.6L666.7,259.6L666.9,260.5L667.0,261.5L667.1,262.5L667.2,263.5L667.4,264.5L667.5,265.5L667.6,266.5L667.8,267.5L667.9,268.5L668.0,269.5L668.2,270.5L668.3,271.5L668.4,272.4L668.5,273.4L668.7,274.4L668.8,275.4L668.9,276.4L669.1,277.4L669.2,278.4L669.3,279.4L669.5,280.4L669.6,281.4L669.7,282.4L669.8,283.4L670.0,284.4L670.1,285.3L670.2,286.3L670.4,287.3L670.5,288.3L670.6,289.3L670.7,290.3L670.9,291.3L671.0,292.3L671.1,293.3L671.2,294.3L671.4,295.3L671.5,296.3L671.6,297.2L671.8,298.2L671.9,299.2L672.0,300.2L672.1,301.2L672.3,302.2L672.4,303.2L672.5,304.2L672.6,305.2L672.8,306.2L672.9,307.2L673.0,308.2L673.1,309.2L673.3,310.1L673.4,311.1L673.5,312.1L673.6,313.1L673.8,314.1L673.9,315.1L674.0,316.1L674.2,317.1L674.3,318.1L674.4,319.1L674.5,320.1L674.7,321.1L674.8,322.1L674.9,323.0L675.0,324.0L675.1,325.0L675.3,326.0L675.4,327.0L675.5,328.0L675.6,329.0L675.8,330.0L675.9,331.0L676.0,332.0L676.1,333.0L676.3,334.0L676.4,335.0L676.5,336.0L676.6,336.9L676.8,337.9L676.9,338.9L677.0,339.9L677.1,340.9L677.2,341.9L677.4,342.9L677.5,343.9L677.6,344.9L677.7,345.9L677.9,346.9L678.0,347.9L678.1,348.9L678.2,349.9L678.4,350.8L678.5,351.8L678.6,352.8L678.7,353.8L678.8,354.8L679.0,355.8L679.1,356.8L679.2,357.8L679.3,358.8L679.4,359.8L679.6,360.8L679.7,361.8L679.8,362.8L679.9,363.8L680.1,364.8L680.2,365.7L680.3,366.7L680.4,367.7L680.5,368.7L680.7,369.7L680.8,370.7L680.9,371.7L681.0,372.7L681.2,373.7L681.3,374.7L681.4,375.7L681.5,376.7L681.7,377.7L681.8,378.7L681.9,379.6L682.0,380.6L682.2,381.6L682.3,382.6L682.4,383.6L682.6,384.6L682.7,385.6L682.8,386.6L682.9,387.6L683.1,388.6L683.2,389.6L683.3,390.6L683.5,391.6L683.6,392.5L683.8,393.5L683.9,394.5L684.0,395.5L684.2,396.5L684.3,397.5L684.5,398.5L684.6,399.5L684.8,400.5L684.9,401.4L685.1,402.4L685.2,403.4L685.4,404.4L685.5,405.4L685.7,406.4L685.8,407.4L686.0,408.4L686.1,409.4L686.3,410.3L686.5,411.3L686.6,412.3L686.8,413.3L686.9,414.3L687.1,415.3L687.3,416.2L687.5,417.2L687.6,418.2L687.8,419.2L688.0,420.2L688.2,421.2L688.3,422.1L688.5,423.1L688.7,424.1L688.9,425.1L689.1,426.1L689.3,427.1L689.5,428.0L689.7,429.0L689.9,430.0L690.1,431.0L690.3,432.0L690.5,432.9L690.7,433.9L690.9,434.9L691.1,435.9L691.4,436.8L691.6,437.8L691.9,438.8L692.2,439.8L692.5,440.8L692.8,441.7L693.2,442.7L693.6,443.7L694.0,444.7L694.5,445.7L695.0,446.7L695.5,447.7L696.1,448.6L696.6,449.5L697.3,450.4L697.9,451.1L698.6,451.6L699.3,451.9L700.0,452.1L700.7,451.9L701.5,451.6L702.2,451.1L702.9,450.5L703.6,449.7L704.2,449.0L704.9,448.2L705.5,447.4L706.0,446.6L706.5,445.8L707.0,444.9L707.5,444.0L708.0,443.2L708.4,442.2L708.8,441.3L709.2,440.4L709.5,439.5L709.8,438.5L710.2,437.5L710.4,436.6L710.7,435.6L711.0,434.6L711.2,433.6L711.5,432.6L711.7,431.6L711.9,430.5L712.1,429.5L712.3,428.5L712.5,427.5L712.7,426.5L712.9,425.4L713.1,424.4L713.3,423.4L713.5,422.4L713.7,421.4L713.9,420.4L714.1,419.4L714.2,418.4L714.5,417.4L714.7,416.4L714.9,415.4L715.1,414.4L715.3,413.5L715.5,412.5L715.7,411.5L715.9,410.6L716.2,409.6L716.4,408.6L716.6,407.7L716.8,406.7L717.1,405.8L717.3,404.8L717.5,403.9L717.7,402.9L718.0,402.0L718.2,401.0L718.4,400.0L718.6,399.1L718.8,398.1L719.0,397.2L719.3,396.2L719.5,395.2L719.7,394.3L719.9,393.3L720.1,392.3L720.3,391.3L720.5,390.4L720.7,389.4L720.9,388.4L721.1,387.4L721.3,386.5L721.5,385.5L721.7,384.5L721.9,383.5L722.1,382.5L722.3,381.5L722.5,380.5L722.6,379.6L722.8,378.6L723.0,377.6L723.2,376.6L723.4,375.6L723.6,374.6L723.8,373.6L724.0,372.6L724.1,371.6L724.3,370.6L724.5,369.6L724.7,368.7L724.9,367.7L725.1,366.7L725.2,365.7L725.4,364.7L725.6,363.7L725.8,362.7L726.0,361.7L726.2,360.7L726.3,359.7L726.5,358.7L726.7,357.7L726.9,356.8L727.1,355.8L727.3,354.8L727.4,353.8L727.6,352.8L727.8,351.8L728.0,350.8L728.2,349.9L728.4,348.9L728.6,347.9L728.8,346.9L728.9,345.9L729.1,345.0L729.3,344.0L729.5,343.0L729.7,342.0L729.9,341.0L730.1,340.1L730.3,339.1L730.5,338.1L730.7,337.1L730.9,336.2L731.1,335.2L731.3,334.2L731.5,333.3L731.7,332.3L731.9,331.3L732.1,330.3L732.3,329.4L732.5,328.4L732.7,327.4L733.0,326.5L733.2,325.5L733.4,324.5L733.6,323.6L733.8,322.6L734.0,321.6L734.3,320.7L734.5,319.7L734.7,318.7L734.9,317.8L735.1,316.8L735.4,315.8L735.6,314.8L735.8,313.9L736.1,312.9L736.3,311.9L736.5,311.0L736.8,310.0L737.0,309.0L737.3,308.1L737.5,307.1L737.7,306.1L738.0,305.2L738.2,304.2L738.5,303.2L738.7,302.3L739.0,301.3L739.3,300.3L739.5,299.3L739.8,298.4L740.0,297.4L740.3,296.4L740.6,295.5L740.8,294.5L741.1,293.5L741.4,292.5L741.7,291.6L742.0,290.6L742.3,289.6L742.5,288.7L742.8,287.7L743.1,286.7L743.4,285.8L743.8,284.8L744.1,283.9L744.4,282.9L744.7,282.0L745.0,281.0L745.4,280.0L745.7,279.1L746.1,278.2L746.4,277.2L746.8,276.3L747.1,275.3L747.5,274.4L747.9,273.5L748.3,272.5L748.6,271.6L749.0,270.7L749.4,269.8L749.9,268.8L750.3,267.9L750.7,267.0L751.1,266.1L751.6,265.2L752.0,264.3L752.5,263.4L752.9,262.5L753.4,261.7L753.9,260.8L754.4,259.9L754.9,259.0L755.4,258.2L755.9,257.3L756.4,256.5L757.0,255.6L757.5,254.8L758.1,253.9L758.6,253.1L759.2,252.3L759.8,251.5L760.4,250.7L761.0,249.8L761.6,249.0L762.2,248.3L762.8,247.5L763.4,246.7L764.1,245.9L764.7,245.1L765.4,244.4L766.1,243.6L766.7,242.9L767.4,242.1L768.1,241.4L768.8,240.7L769.5,240.0L770.2,239.3L770.9,238.6L771.6,237.9L772.4,237.2L773.1,236.5L773.8,235.8L774.6,235.1L775.3,234.5L776.1,233.8L776.9,233.2L777.7,232.6L778.4,231.9L779.2,231.3L780.0,230.7L780.8,230.1L781.6,229.5L782.4,229.0L783.2,228.4L784.1,227.8L784.9,227.3L785.7,226.7L786.6,226.2L787.4,225.7L788.2,225.2L789.1,224.6L790.0,224.2L790.8,223.7L791.7,223.2L792.6,222.7L793.4,222.3L794.3,221.8L795.2,221.4L796.1,221.0L797.0,220.5L797.9,220.1L798.8,219.7L799.7,219.3L800.6,219.0L801.5,218.6L802.4,218.2L803.3,217.9L804.2,217.5L805.1,217.2L806.1,216.9L807.0,216.5L807.9,216.2L808.9,215.9L809.8,215.6L810.8,215.3L811.7,215.0L812.7,214.8L813.6,214.5L814.6,214.2L815.5,214.0L816.5,213.7L817.4,213.5L818.4,213.3L819.4,213.0L820.3,212.8L821.3,212.6L822.3,212.4L823.3,212.2L824.2,212.0L825.2,211.8L826.2,211.6L827.2,211.4L828.2,211.3L829.2,211.1L830.2,210.9L831.2,210.8L832.2,210.6L833.2,210.5L834.2,210.3L835.2,210.2L836.2,210.1L837.2,210.0L838.2,209.8L839.2,209.7L840.2,209.6L841.2,209.5L842.2,209.4L843.2,209.3L844.2,209.2L845.2,209.1L846.2,209.0L847.2,208.9L848.3,208.8L849.3,208.7L850.3,208.6L851.3,208.6L852.3,208.5L853.3,208.4L854.4,208.3L855.4,208.3L856.4,208.2L857.4,208.1L858.4,208.1L859.4,208.0L860.5,208.0L861.5,207.9L862.5,207.8L863.5,207.8L864.5,207.7L865.5,207.7L866.6,207.6L867.6,207.6L868.6,207.5L869.6,207.5L870.6,207.4L871.6,207.4L872.6,207.3L873.6,207.3L874.7,207.2L875.7,207.2L876.7,207.2L877.7,207.1L878.7,207.1L879.7,207.0L880.7,207.0L881.7,206.9L882.7,206.9L883.7,206.9L884.7,206.8L885.7,206.8L886.7,206.7L887.7,206.7L888.7,206.7L889.7,206.6L890.7,206.6L891.8,206.6L892.8,206.5L893.8,206.5L894.8,206.5L895.8,206.4L896.8,206.4L897.8,206.4L898.8,206.3L899.8,206.3L900.8,206.3L901.8,206.2L902.7,206.2L903.7,206.2L904.7,206.2L905.7,206.1L906.7,206.1L907.7,206.1L908.7,206.0L909.7,206.0L910.7,206.0L911.7,206.0L912.7,205.9L913.7,205.9L914.7,205.9L915.7,205.9L916.7,205.9L917.7,205.8L918.7,205.8L919.7,205.8L920.7,205.8L921.7,205.7L922.7,205.7L923.6,205.7L924.6,205.7L925.6,205.7L926.6,205.6L927.6,205.6L928.6,205.6L929.6,205.6L930.6,205.6L931.6,205.6L932.6,205.5L933.6,205.5L934.6,205.5L935.6,205.5L936.5,205.5L937.5,205.5L938.5,205.5L939.5,205.4L940.5,205.4L941.5,205.4L942.5,205.4L943.5,205.4L944.5,205.4L945.5,205.4L946.5,205.4L947.5,205.3L948.4,205.3L949.4,205.3L950.4,205.3L951.4,205.3L952.4,205.3L953.4,205.3L954.4,205.3L955.4,205.3L956.4,205.2L957.4,205.2L958.4,205.2L959.4,205.2L960.3,205.2L961.3,205.2L962.3,205.2L963.3,205.2L964.3,205.2L965.3,205.2L966.3,205.2L967.3,205.2L968.3,205.1L969.3,205.1L970.3,205.1L971.3,205.1L972.3,205.1L973.3,205.1L974.3,205.1L975.3,205.1L976.3,205.1L977.3,205.1L978.2,205.1L979.2,205.1L980.2,205.1L981.2,205.1L982.2,205.1L983.2,205.1L984.2,205.1L985.2,205.0L986.2,205.0L987.2,205.0L988.2,205.0L989.2,205.0L990.2,205.0L991.2,205.0L992.2,205.0L993.2,205.0L994.2,205.0L995.2,205.0L996.2,205.0L997.2,205.0L998.2,205.0L999.3,205.0L1000.3,205.0L1001.3,205.0L1002.3,205.0L1003.3,205.0L1004.3,204.9L1005.3,204.9L1006.3,204.9L1007.3,204.9L1008.3,204.9L1009.3,204.9L1010.3,204.9L1011.3,204.9L1012.4,204.9L1013.4,204.9L1014.4,204.9L1015.4,204.9L1016.4,204.9L1017.4,204.9L1018.4,204.9L1019.4,204.9L1020.5,204.8L1021.5,204.8L1022.5,204.8L1023.5,204.8L1024.5,204.8L1025.5,204.8L1026.6,204.8L1027.6,204.8L1028.6,204.8L1029.6,204.8" fill="none" stroke="#000" stroke-width="3.4" stroke-linejoin="round"/>
<path d="M119.0,686.9L120.0,686.8L121.0,686.8L122.0,686.7L123.0,686.7L124.0,686.7L125.0,686.6L126.0,686.6L127.0,686.6L128.0,686.5L129.0,686.5L130.0,686.5L131.0,686.5L132.0,686.4L133.0,686.4L134.0,686.4L135.0,686.3L136.0,686.3L137.0,686.3L138.0,686.3L139.0,686.2L140.0,686.2L141.0,686.2L142.0,686.2L143.0,686.1L144.0,686.1L145.0,686.1L146.0,686.1L147.0,686.0L148.0,686.0L149.0,686.0L150.0,686.0L151.0,685.9L152.0,685.9L153.0,685.9L154.0,685.9L155.0,685.9L156.1,685.8L157.1,685.8L158.1,685.8L159.1,685.8L160.1,685.8L161.1,685.7L162.1,685.7L163.1,685.7L164.1,685.7L165.1,685.7L166.1,685.6L167.1,685.6L168.1,685.6L169.1,685.6L170.1,685.6L171.1,685.5L172.1,685.5L173.1,685.5L174.1,685.5L175.1,685.5L176.1,685.4L177.1,685.4L178.1,685.4L179.1,685.4L180.1,685.4L181.1,685.3L182.1,685.3L183.1,685.3L184.1,685.3L185.1,685.3L186.1,685.2L187.1,685.2L188.1,685.2L189.1,685.2L190.1,685.2L191.1,685.1L192.1,685.1L193.1,685.1L194.1,685.1L195.1,685.1L196.1,685.0L197.1,685.0L198.1,685.0L199.1,685.0L200.1,684.9L201.1,684.9L202.1,684.9L203.1,684.9L204.1,684.8L205.1,684.8L206.1,684.8L207.1,684.8L208.1,684.7L209.1,684.7L210.1,684.7L211.1,684.6L212.1,684.6L213.1,684.6L214.1,684.6L215.1,684.5L216.1,684.5L217.1,684.5L218.1,684.4L219.1,684.4L220.1,684.4L221.1,684.3L222.1,684.3L223.1,684.3L224.1,684.2L225.1,684.2L226.1,684.2L227.1,684.1L228.1,684.1L229.1,684.0L230.1,684.0L231.1,684.0L232.1,683.9L233.1,683.9L234.1,683.8L235.1,683.8L236.1,683.7L237.1,683.7L238.1,683.7L239.1,683.6L240.1,683.6L241.1,683.5L242.1,683.5L243.1,683.4L244.1,683.4L245.1,683.3L246.1,683.3L247.1,683.2L248.1,683.1L249.1,683.1L250.1,683.0L251.1,683.0L252.1,682.9L253.1,682.9L254.1,682.8L255.1,682.7L256.1,682.7L257.1,682.6L258.1,682.5L259.1,682.5L260.1,682.4L261.1,682.3L262.1,682.3L263.1,682.2L264.1,682.1L265.0,682.1L266.0,682.0L267.0,681.9L268.0,681.8L269.0,681.8L270.0,681.7L271.0,681.6L272.0,681.5L273.0,681.4L274.0,681.4L275.0,681.3L276.0,681.2L277.0,681.1L278.0,681.0L279.0,680.9L280.0,680.8L281.0,680.7L282.0,680.6L283.0,680.5L284.0,680.4L285.0,680.3L286.0,680.3L287.0,680.1L288.0,680.0L289.0,679.9L290.0,679.8L291.0,679.7L292.0,679.6L293.0,679.5L294.0,679.4L295.0,679.3L296.0,679.2L297.0,679.1L298.0,678.9L299.0,678.8L300.0,678.7L300.9,678.6L301.9,678.5L302.9,678.3L303.9,678.2L304.9,678.1L305.9,677.9L306.9,677.8L307.9,677.7L308.9,677.5L309.9,677.4L310.9,677.2L311.9,677.1L312.9,677.0L313.9,676.8L314.9,676.7L315.9,676.5L316.9,676.3L317.8,676.2L318.8,676.0L319.8,675.8L320.8,675.7L321.8,675.5L322.8,675.3L323.8,675.1L324.8,675.0L325.7,674.8L326.7,674.6L327.7,674.4L328.7,674.2L329.7,674.0L330.6,673.8L331.6,673.6L332.6,673.4L333.6,673.1L334.6,672.9L335.5,672.7L336.5,672.5L337.5,672.2L338.4,672.0L339.4,671.7L340.4,671.5L341.3,671.2L342.3,671.0L343.3,670.7L344.2,670.4L345.2,670.2L346.2,669.9L347.1,669.6L348.1,669.3L349.0,669.0L350.0,668.7L350.9,668.4L351.9,668.1L352.8,667.8L353.8,667.5L354.7,667.1L355.7,666.8L356.6,666.5L357.5,666.1L358.5,665.8L359.4,665.4L360.3,665.0L361.3,664.7L362.2,664.3L363.1,663.9L364.0,663.5L365.0,663.1L365.9,662.7L366.8,662.3L367.7,661.9L368.6,661.5L369.5,661.1L370.4,660.6L371.3,660.2L372.2,659.8L373.1,659.3L374.0,658.9L374.9,658.4L375.8,657.9L376.7,657.5L377.5,657.0L378.4,656.5L379.3,656.0L380.2,655.5L381.0,655.0L381.9,654.5L382.8,654.0L383.6,653.5L384.5,653.0L385.3,652.4L386.2,651.9L387.0,651.4L387.8,650.8L388.7,650.3L389.5,649.7L390.3,649.1L391.1,648.6L392.0,648.0L392.8,647.4L393.6,646.8L394.4,646.2L395.2,645.6L396.0,645.0L396.8,644.4L397.5,643.8L398.3,643.2L399.1,642.5L399.9,641.9L400.6,641.2L401.4,640.6L402.2,639.9L402.9,639.3L403.7,638.6L404.4,638.0L405.1,637.3L405.9,636.6L406.6,635.9L407.3,635.2L408.0,634.5L408.7,633.8L409.4,633.1L410.1,632.4L410.8,631.7L411.5,630.9L412.2,630.2L412.9,629.5L413.6,628.7L414.2,628.0L414.9,627.2L415.5,626.5L416.2,625.7L416.8,624.9L417.5,624.1L418.1,623.4L418.7,622.6L419.4,621.8L420.0,621.0L420.6,620.2L421.2,619.4L421.8,618.6L422.4,617.8L423.0,617.0L423.6,616.2L424.2,615.3L424.7,614.5L425.3,613.7L425.9,612.8L426.4,612.0L427.0,611.2L427.5,610.3L428.1,609.5L428.6,608.6L429.1,607.8L429.7,606.9L430.2,606.1L430.7,605.2L431.2,604.3L431.7,603.5L432.2,602.6L432.7,601.7L433.2,600.8L433.7,600.0L434.2,599.1L434.7,598.2L435.1,597.3L435.6,596.4L436.1,595.5L436.5,594.6L437.0,593.8L437.4,592.9L437.9,592.0L438.3,591.1L438.7,590.2L439.2,589.3L439.6,588.4L440.0,587.5L440.4,586.6L440.8,585.6L441.2,584.7L441.6,583.8L442.1,582.9L442.5,582.0L442.9,581.1L443.3,580.2L443.7,579.3L444.1,578.4L444.5,577.5L444.9,576.6L445.3,575.6L445.7,574.7L446.1,573.8L446.5,572.9L446.9,572.0L447.3,571.1L447.7,570.2L448.1,569.3L448.5,568.4L449.0,567.5L449.4,566.6L449.8,565.7L450.3,564.8L450.7,563.9L451.1,563.0L451.6,562.1L452.1,561.2L452.5,560.3L453.0,559.5L453.5,558.6L453.9,557.7L454.4,556.8L454.9,555.9L455.4,555.1L456.0,554.2L456.5,553.3L457.0,552.5L457.6,551.6L458.1,550.7L458.7,549.9L459.2,549.0L459.8,548.2L460.4,547.4L461.0,546.5L461.6,545.7L462.3,544.8L462.9,544.0L463.6,543.2L464.2,542.4L464.9,541.6L465.6,540.8L466.3,540.0L467.0,539.2L467.8,538.5L468.5,537.9L469.2,537.3L470.0,536.7L470.8,536.2L471.5,535.8L472.3,535.5L473.1,535.2L473.9,535.1L474.7,535.1L475.5,535.1L476.3,535.3L477.1,535.6L478.0,536.0L478.8,536.4L479.6,536.9L480.4,537.5L481.2,538.1L482.0,538.8L482.7,539.5L483.5,540.2L484.3,541.0L485.0,541.8L485.7,542.6L486.4,543.4L487.1,544.2L487.8,545.0L488.5,545.8L489.1,546.6L489.7,547.5L490.4,548.3L491.0,549.2L491.6,550.0L492.2,550.9L492.8,551.7L493.3,552.6L493.9,553.4L494.4,554.3L495.0,555.2L495.5,556.1L496.0,556.9L496.6,557.8L497.1,558.7L497.6,559.6L498.1,560.4L498.6,561.3L499.1,562.2L499.6,563.1L500.1,563.9L500.6,564.8L501.1,565.7L501.5,566.6L502.0,567.4L502.5,568.3L503.0,569.2L503.5,570.0L504.0,570.9L504.5,571.8L505.0,572.6L505.5,573.5L506.0,574.3L506.5,575.1L507.0,576.0L507.5,576.8L508.1,577.6L508.6,578.4L509.2,579.2L509.7,580.0L510.3,580.8L510.8,581.6L511.4,582.4L512.0,583.2L512.6,583.9L513.2,584.7L513.8,585.4L514.5,586.2L515.1,586.9L515.8,587.6L516.5,588.3L517.2,589.0L517.9,589.7L518.6,590.3L519.3,591.0L520.1,591.6L520.9,592.3L521.7,592.9L522.5,593.5L523.3,594.1L524.1,594.7L525.0,595.2L525.9,595.8L526.7,596.3L527.6,596.8L528.5,597.3L529.5,597.8L530.4,598.3L531.3,598.7L532.3,599.2L533.2,599.6L534.2,600.0L535.1,600.4L536.1,600.8L537.1,601.1L538.1,601.5L539.0,601.8L540.0,602.1L541.0,602.4L542.0,602.7L543.0,602.9L544.0,603.1L545.0,603.4L546.0,603.6L547.0,603.8L547.9,603.9L548.9,604.1L549.9,604.3L550.9,604.4L551.9,604.6L552.9,604.8L553.8,604.9L554.8,605.1L555.8,605.3L556.7,605.4L557.7,605.6L558.7,605.8L559.6,606.0L560.6,606.3L561.5,606.5L562.4,606.8L563.4,607.0L564.3,607.3L565.2,607.7L566.1,608.0L567.0,608.4L567.9,608.8L568.8,609.2L569.7,609.6L570.6,610.1L571.5,610.6L572.3,611.1L573.2,611.6L574.0,612.1L574.8,612.7L575.7,613.3L576.5,613.9L577.3,614.5L578.1,615.1L578.9,615.7L579.7,616.4L580.4,617.1L581.2,617.7L581.9,618.4L582.7,619.2L583.4,619.9L584.1,620.6L584.8,621.4L585.5,622.1L586.1,622.9L586.8,623.7L587.4,624.5L588.1,625.3L588.7,626.1L589.3,626.9L589.9,627.7L590.5,628.5L591.0,629.4L591.6,630.2L592.1,631.0L592.7,631.9L593.2,632.8L593.7,633.6L594.1,634.5L594.6,635.4L595.1,636.2L595.5,637.1L596.0,638.0L596.4,638.9L596.8,639.8L597.3,640.7L597.7,641.6L598.0,642.5L598.4,643.5L598.8,644.4L599.2,645.3L599.5,646.2L599.9,647.2L600.2,648.1L600.6,649.0L600.9,650.0L601.3,650.9L601.6,651.9L601.9,652.8L602.2,653.8L602.5,654.7L602.8,655.7L603.1,656.6L603.4,657.6L603.7,658.5L604.0,659.5L604.3,660.4L604.6,661.4L604.9,662.4L605.2,663.3L605.5,664.3L605.7,665.2L606.0,666.2L606.3,667.2L606.6,668.1L606.9,669.1L607.2,670.1L607.4,671.0L607.7,672.0L608.0,672.9L608.3,673.9L608.6,674.9L608.9,675.8L609.1,676.8L609.4,677.7L609.7,678.7L610.0,679.7L610.2,680.6L610.5,681.6L610.8,682.6L611.1,683.5L611.3,684.5L611.6,685.4L611.9,686.4L612.2,687.4L612.4,688.3L612.7,689.3L613.0,690.3L613.2,691.2L613.5,692.2L613.8,693.1L614.1,694.1L614.3,695.1L614.6,696.0L614.8,697.0L615.1,698.0L615.4,698.9L615.6,699.9L615.9,700.9L616.2,701.8L616.4,702.8L616.7,703.8L616.9,704.7L617.2,705.7L617.5,706.7L617.7,707.6L618.0,708.6L618.2,709.6L618.5,710.5L618.7,711.5L619.0,712.5L619.2,713.4L619.5,714.4L619.7,715.4L620.0,716.3L620.2,717.3L620.5,718.3L620.7,719.2L621.0,720.2L621.2,721.2L621.4,722.1L621.7,723.1L621.9,724.1L622.2,725.1L622.4,726.0L622.6,727.0L622.9,728.0L623.1,728.9L623.3,729.9L623.6,730.9L623.8,731.9L624.0,732.8L624.2,733.8L624.5,734.8L624.7,735.8L624.9,736.7L625.1,737.7L625.4,738.7L625.6,739.7L625.8,740.6L626.0,741.6L626.2,742.6L626.5,743.6L626.7,744.6L626.9,745.5L627.1,746.5L627.3,747.5L627.5,748.5L627.7,749.5L627.9,750.4L628.1,751.4L628.3,752.4L628.5,753.4L628.7,754.4L628.9,755.3L629.1,756.3L629.3,757.3L629.5,758.3L629.7,759.3L629.9,760.3L630.1,761.2L630.3,762.2L630.5,763.2L630.7,764.2L630.9,765.2L631.1,766.2L631.3,767.1L631.5,768.1L631.6,769.1L631.8,770.1L632.0,771.1L632.2,772.1L632.4,773.1L632.6,774.1L632.8,775.0L632.9,776.0L633.1,777.0L633.3,778.0L633.5,779.0L633.7,780.0L633.9,781.0L634.1,781.9L634.2,782.9L634.4,783.9L634.6,784.9L634.8,785.9L635.0,786.9L635.2,787.9L635.3,788.9L635.5,789.8L635.7,790.8L635.9,791.8L636.1,792.8L636.3,793.8L636.5,794.8L636.6,795.8L636.8,796.7L637.0,797.7L637.2,798.7L637.4,799.7L637.6,800.7L637.8,801.7L638.0,802.7L638.1,803.6L638.3,804.6L638.5,805.6L638.7,806.6L638.9,807.6L639.1,808.6L639.3,809.5L639.5,810.5L639.7,811.5L639.9,812.5L640.1,813.5L640.3,814.4L640.5,815.4L640.7,816.4L640.9,817.4L641.1,818.4L641.3,819.3L641.5,820.3L641.7,821.3L641.9,822.3L642.2,823.2L642.4,824.2L642.6,825.2L642.8,826.2L643.0,827.1L643.2,828.1L643.5,829.1L643.7,830.1L643.9,831.0L644.1,832.0L644.4,833.0L644.6,834.0L644.8,834.9L645.1,835.9L645.3,836.9L645.5,837.8L645.8,838.8L646.0,839.8L646.3,840.7L646.5,841.7L646.8,842.7L647.0,843.6L647.3,844.6L647.5,845.6L647.8,846.5L648.0,847.5L648.3,848.4L648.6,849.4L648.8,850.4L649.1,851.3L649.4,852.3L649.7,853.2L649.9,854.2L650.2,855.1L650.5,856.1L650.8,857.0L651.1,858.0L651.4,858.9L651.7,859.9L651.9,860.8L652.2,861.8L652.6,862.7L652.9,863.7L653.2,864.6L653.5,865.6L653.8,866.5L654.1,867.4L654.4,868.4L654.8,869.3L655.1,870.3L655.4,871.2L655.8,872.1L656.1,873.1L656.4,874.0L656.8,874.9L657.1,875.9L657.5,876.8L657.8,877.7L658.2,878.7L658.6,879.6L658.9,880.6L659.3,881.5L659.7,882.4L660.1,883.4L660.5,884.3L660.9,885.3L661.3,886.2L661.7,887.2L662.1,888.2L662.6,889.1L663.0,890.1L663.5,891.1L663.9,892.0L664.4,893.0L664.9,893.9L665.5,894.9L666.0,895.7L666.6,896.6L667.2,897.4L667.9,898.2L668.6,898.9L669.4,899.6L670.2,900.3L671.1,900.8L672.0,901.3L672.9,901.7L673.8,901.9L674.7,902.1L675.6,902.1L676.5,901.9L677.3,901.6L678.1,901.2L678.8,900.7L679.6,900.1L680.3,899.4L680.9,898.7L681.6,898.0L682.3,897.2L682.9,896.5L683.5,895.7L684.2,894.9L684.8,894.1L685.4,893.3L685.9,892.5L686.5,891.7L687.1,890.9L687.6,890.1L688.2,889.2L688.7,888.4L689.2,887.6L689.7,886.7L690.2,885.8L690.7,885.0L691.2,884.1L691.6,883.2L692.1,882.3L692.6,881.4L693.0,880.5L693.5,879.6L693.9,878.7L694.3,877.8L694.7,876.9L695.2,876.0L695.6,875.0L696.0,874.1L696.4,873.2L696.8,872.3L697.2,871.3L697.5,870.4L697.9,869.4L698.3,868.5L698.7,867.6L699.1,866.6L699.4,865.7L699.8,864.7L700.2,863.8L700.5,862.8L700.9,861.9L701.3,860.9L701.6,860.0L702.0,859.0L702.3,858.1L702.7,857.2L703.1,856.2L703.4,855.3L703.8,854.3L704.2,853.4L704.5,852.5L704.9,851.5L705.3,850.6L705.6,849.7L706.0,848.7L706.4,847.8L706.8,846.9L707.1,845.9L707.5,845.0L707.9,844.1L708.3,843.2L708.6,842.2L709.0,841.3L709.4,840.4L709.8,839.5L710.1,838.5L710.5,837.6L710.9,836.7L711.3,835.8L711.7,834.9L712.1,833.9L712.5,833.0L712.8,832.1L713.2,831.2L713.6,830.3L714.0,829.4L714.4,828.5L714.8,827.5L715.2,826.6L715.6,825.7L716.0,824.8L716.4,823.9L716.8,823.0L717.2,822.1L717.6,821.2L718.0,820.2L718.4,819.3L718.8,818.4L719.3,817.5L719.7,816.6L720.1,815.7L720.5,814.8L720.9,813.9L721.3,813.0L721.8,812.1L722.2,811.2L722.6,810.3L723.1,809.4L723.5,808.5L723.9,807.6L724.4,806.7L724.8,805.8L725.3,804.9L725.7,804.0L726.2,803.1L726.6,802.2L727.1,801.3L727.5,800.4L728.0,799.5L728.4,798.6L728.9,797.7L729.4,796.9L729.9,796.0L730.3,795.1L730.8,794.2L731.3,793.3L731.8,792.5L732.3,791.6L732.8,790.7L733.3,789.9L733.8,789.0L734.3,788.1L734.8,787.3L735.3,786.4L735.8,785.6L736.4,784.7L736.9,783.9L737.4,783.0L738.0,782.2L738.5,781.3L739.0,780.5L739.6,779.7L740.1,778.8L740.7,778.0L741.3,777.2L741.8,776.4L742.4,775.5L743.0,774.7L743.6,773.9L744.1,773.1L744.7,772.3L745.3,771.5L745.9,770.7L746.5,769.9L747.2,769.1L747.8,768.3L748.4,767.5L749.0,766.8L749.7,766.0L750.3,765.2L750.9,764.4L751.6,763.7L752.2,762.9L752.9,762.2L753.6,761.4L754.2,760.7L754.9,759.9L755.6,759.2L756.3,758.4L757.0,757.7L757.6,757.0L758.3,756.2L759.0,755.5L759.8,754.8L760.5,754.1L761.2,753.4L761.9,752.7L762.6,752.0L763.4,751.3L764.1,750.6L764.8,749.9L765.6,749.3L766.3,748.6L767.1,747.9L767.8,747.3L768.6,746.6L769.3,745.9L770.1,745.3L770.9,744.6L771.7,744.0L772.4,743.4L773.2,742.7L774.0,742.1L774.8,741.5L775.6,740.9L776.4,740.3L777.2,739.7L778.0,739.1L778.8,738.5L779.6,737.9L780.5,737.3L781.3,736.7L782.1,736.2L782.9,735.6L783.8,735.1L784.6,734.5L785.5,734.0L786.3,733.4L787.1,732.9L788.0,732.3L788.8,731.8L789.7,731.3L790.6,730.8L791.4,730.3L792.3,729.8L793.2,729.3L794.0,728.8L794.9,728.3L795.8,727.8L796.7,727.4L797.6,726.9L798.5,726.4L799.4,726.0L800.2,725.6L801.1,725.1L802.0,724.7L802.9,724.2L803.9,723.8L804.8,723.4L805.7,723.0L806.6,722.6L807.5,722.2L808.4,721.8L809.3,721.4L810.3,721.0L811.2,720.6L812.1,720.3L813.0,719.9L814.0,719.5L814.9,719.2L815.9,718.8L816.8,718.5L817.7,718.1L818.7,717.8L819.6,717.4L820.6,717.1L821.5,716.8L822.5,716.5L823.4,716.1L824.4,715.8L825.3,715.5L826.3,715.2L827.2,714.9L828.2,714.6L829.1,714.3L830.1,714.0L831.1,713.8L832.0,713.5L833.0,713.2L833.9,712.9L834.9,712.7L835.9,712.4L836.8,712.1L837.8,711.9L838.8,711.6L839.8,711.4L840.7,711.1L841.7,710.9L842.7,710.6L843.6,710.4L844.6,710.2L845.6,709.9L846.6,709.7L847.5,709.5L848.5,709.3L849.5,709.0L850.5,708.8L851.4,708.6L852.4,708.4L853.4,708.2L854.4,708.0L855.4,707.8L856.3,707.6L857.3,707.4L858.3,707.2L859.3,707.0L860.3,706.8L861.2,706.6L862.2,706.5L863.2,706.3L864.2,706.1L865.2,705.9L866.2,705.8L867.1,705.6L868.1,705.4L869.1,705.3L870.1,705.1L871.1,704.9L872.1,704.8L873.1,704.6L874.0,704.5L875.0,704.3L876.0,704.2L877.0,704.0L878.0,703.9L879.0,703.8L880.0,703.6L881.0,703.5L882.0,703.4L882.9,703.2L883.9,703.1L884.9,703.0L885.9,702.9L886.9,702.7L887.9,702.6L888.9,702.5L889.9,702.4L890.9,702.3L891.9,702.2L892.9,702.1L893.9,702.0L894.9,701.9L895.9,701.7L896.9,701.6L897.8,701.6L898.8,701.5L899.8,701.4L900.8,701.3L901.8,701.2L902.8,701.1L903.8,701.0L904.8,700.9L905.8,700.8L906.8,700.8L907.8,700.7L908.8,700.6L909.8,700.5L910.8,700.4L911.8,700.4L912.8,700.3L913.8,700.2L914.8,700.2L915.8,700.1L916.8,700.0L917.8,700.0L918.8,699.9L919.8,699.8L920.8,699.8L921.8,699.7L922.8,699.7L923.8,699.6L924.8,699.5L925.8,699.5L926.8,699.4L927.8,699.4L928.8,699.3L929.8,699.3L930.8,699.2L931.8,699.2L932.9,699.1L933.9,699.1L934.9,699.1L935.9,699.0L936.9,699.0L937.9,698.9L938.9,698.9L939.9,698.9L940.9,698.8L941.9,698.8L942.9,698.7L943.9,698.7L944.9,698.7L945.9,698.6L946.9,698.6L947.9,698.6L948.9,698.5L949.9,698.5L950.9,698.5L951.9,698.5L952.9,698.4L953.9,698.4L954.9,698.4L955.9,698.3L957.0,698.3L958.0,698.3L959.0,698.3L960.0,698.2L961.0,698.2L962.0,698.2L963.0,698.2L964.0,698.2L965.0,698.1L966.0,698.1L967.0,698.1L968.0,698.1L969.0,698.0L970.0,698.0L971.0,698.0L972.0,698.0L973.0,698.0L974.0,697.9L975.0,697.9L976.0,697.9L977.0,697.9L978.0,697.9L979.1,697.8L980.1,697.8L981.1,697.8L982.1,697.8L983.1,697.8L984.1,697.7L985.1,697.7L986.1,697.7L987.1,697.7L988.1,697.7L989.1,697.6L990.1,697.6L991.1,697.6L992.1,697.6L993.1,697.6L994.1,697.5L995.1,697.5L996.1,697.5L997.1,697.5L998.1,697.4L999.1,697.4L1000.1,697.4L1001.1,697.4L1002.1,697.3L1003.1,697.3L1004.1,697.3L1005.1,697.3L1006.1,697.2L1007.1,697.2L1008.1,697.2L1009.1,697.2L1010.1,697.1L1011.1,697.1L1012.1,697.1L1013.1,697.0L1014.1,697.0L1015.1,697.0L1016.1,696.9L1017.1,696.9L1018.1,696.9L1019.1,696.8L1020.1,696.8L1021.1,696.7L1022.1,696.7L1023.1,696.7L1024.1,696.6L1025.1,696.6L1026.1,696.5L1027.1,696.5L1028.0,696.4L1029.0,696.4L1030.0,696.4L1031.0,696.3L1032.0,696.3L1033.0,696.2L1034.0,696.1L1035.0,696.1" fill="none" stroke="#000" stroke-width="3.3" stroke-linejoin="round"/>
<path d="M119.0,688.9L119.7,688.7L120.4,688.3L121.1,689.5L121.8,688.2L122.5,688.4L123.2,689.1L123.9,688.4L124.6,688.4L125.3,689.0L126.0,688.5L126.7,687.8L127.4,688.6L128.1,688.5L128.8,689.9L129.5,687.9L130.2,689.3L130.9,688.1L131.6,688.4L132.3,688.4L133.0,688.8L133.7,689.2L134.4,689.8L135.1,688.2L135.8,689.5L136.5,689.3L137.2,689.2L137.9,688.0L138.6,689.2L139.3,688.5L140.0,688.8L140.7,688.4L141.4,689.0L142.1,689.3L142.8,689.3L143.5,688.4L144.2,689.2L144.9,689.5L145.6,687.9L146.3,689.5L147.0,687.6L147.7,688.9L148.4,688.9L149.1,689.5L149.8,688.7L150.5,688.1L151.2,687.9L151.9,687.6L152.6,689.0L153.3,688.3L154.0,687.9L154.7,688.8L155.4,687.9L156.1,688.1L156.8,688.1L157.5,689.6L158.2,689.4L158.9,688.3L159.6,687.3L160.3,688.6L161.0,688.5L161.7,688.6L162.4,688.8L163.1,688.2L163.8,689.0L164.5,689.0L165.2,688.5L165.9,688.1L166.6,688.0L167.3,688.9L168.0,687.6L168.7,688.3L169.4,687.8L170.1,687.4L170.8,688.8L171.5,688.3L172.2,688.4L172.9,689.0L173.6,687.3L174.3,688.3L175.0,688.5L175.7,688.9L176.4,687.6L177.1,688.8L177.8,688.5L178.5,689.3L179.2,689.1L179.9,688.7L180.6,689.8L181.3,688.3L182.0,688.0L182.7,688.1L183.4,687.6L184.1,688.3L184.8,687.0L185.5,688.2L186.2,688.6L186.9,689.0L187.6,688.0L188.3,689.3L189.0,687.8L189.7,688.2L190.4,687.0L191.1,687.7L191.8,687.7L192.5,689.3L193.2,688.6L193.9,687.5L194.6,688.6L195.3,688.6L196.0,688.1L196.7,688.3L197.4,688.0L198.1,687.9L198.8,687.0L199.5,688.2L200.2,689.1L200.9,689.2L201.6,688.0L202.3,687.7L203.0,688.1L203.7,688.8L204.4,688.5L205.1,687.8L205.8,688.5L206.5,688.1L207.2,688.6L207.9,687.9L208.6,687.2L209.3,688.2L210.0,688.7L210.7,687.4L211.4,688.1L212.1,688.8L212.8,687.9L213.5,687.7L214.2,689.6L214.9,688.7L215.6,688.9L216.3,687.5L217.0,689.3L217.7,687.0L218.4,687.8L219.1,688.7L219.8,689.1L220.5,687.5L221.2,687.7L221.9,688.3L222.6,686.8L223.3,688.6L224.1,688.5L224.8,687.8L225.5,688.5L226.2,688.6L226.9,688.3L227.6,688.5L228.3,689.1L229.0,687.8L229.7,688.2L230.4,687.7L231.1,688.8L231.8,687.8L232.5,688.4L233.2,688.2L233.9,688.1L234.6,689.2L235.3,688.0L236.0,689.0L236.7,688.6L237.4,688.9L238.1,687.9L238.8,688.6L239.5,688.5L240.2,687.6L240.9,688.2L241.6,687.9L242.3,688.0L243.0,688.9L243.7,687.5L244.4,686.8L245.1,686.8L245.8,687.6L246.5,687.5L247.2,687.9L247.9,688.3L248.6,689.1L249.3,688.1L250.0,688.2L250.7,687.4L251.4,688.3L252.1,688.8L252.8,688.8L253.5,686.5L254.2,688.4L254.9,688.9L255.6,688.4L256.3,686.8L257.0,687.6L257.7,688.2L258.4,688.1L259.1,687.2L259.8,687.2L260.5,688.4L261.2,686.8L261.9,688.7L262.6,687.7L263.3,687.9L264.0,686.8L264.7,687.3L265.4,688.1L266.1,686.7L266.8,689.0L267.5,686.7L268.2,686.8L268.9,687.6L269.6,687.9L270.3,688.1L271.0,687.3L271.7,687.4L272.4,687.4L273.1,687.1L273.8,685.8L274.5,688.1L275.2,687.6L275.9,687.6L276.6,687.0L277.3,687.6L278.0,687.4L278.7,687.4L279.4,688.1L280.1,686.2L280.8,687.5L281.5,686.6L282.2,687.1L282.9,688.3L283.6,686.6L284.3,687.2L285.0,686.9L285.7,687.9L286.4,686.6L287.1,686.1L287.8,687.5L288.5,686.9L289.2,686.9L289.9,687.8L290.6,686.5L291.3,686.8L292.0,687.2L292.7,687.3L293.4,686.7L294.1,687.7L294.8,688.5L295.5,686.7L296.2,688.2L296.9,685.5L297.6,687.8L298.3,686.6L299.0,686.9L299.7,686.6L300.4,686.4L301.1,685.9L301.8,686.5L302.5,687.6L303.2,687.5L303.9,686.4L304.6,686.3L305.3,686.2L306.0,685.8L306.7,687.8L307.4,687.0L308.1,686.6L308.8,686.2L309.5,685.8L310.2,687.3L310.9,686.9L311.6,685.7L312.3,687.0L313.0,685.6L313.7,686.7L314.4,685.6L315.1,686.0L315.8,686.5L316.5,686.5L317.2,686.8L317.9,685.5L318.6,687.1L319.3,686.9L320.0,686.0L320.7,686.3L321.4,685.4L322.1,685.8L322.8,685.0L323.5,685.9L324.2,685.9L324.9,686.6L325.6,686.3L326.2,686.2L326.9,685.4L327.6,685.4L328.3,685.3L329.0,685.6L329.7,684.1L330.4,685.9L331.1,684.3L331.8,684.9L332.5,685.3L333.2,684.8L333.9,686.3L334.6,685.0L335.3,686.1L336.0,685.8L336.7,684.6L337.4,685.1L338.1,685.7L338.8,684.5L339.5,684.8L340.2,684.3L340.9,684.6L341.6,684.3L342.3,684.5L343.0,685.1L343.7,685.3L344.4,684.4L345.1,684.3L345.8,684.7L346.5,683.9L347.2,683.3L347.9,684.7L348.6,683.2L349.3,684.4L350.0,683.1L350.7,684.9L351.4,682.8L352.1,684.0L352.7,684.4L353.4,682.7L354.1,684.2L354.8,682.6L355.5,681.9L356.2,683.5L356.9,683.4L357.6,682.7L358.3,681.0L359.0,682.6L359.7,682.3L360.4,682.2L361.1,682.1L361.8,681.0L362.5,681.8L363.2,683.3L363.9,683.0L364.6,681.6L365.2,681.3L365.9,681.9L366.6,682.2L367.3,681.9L368.0,680.5L368.7,681.3L369.4,681.2L370.1,681.9L370.8,681.7L371.5,681.1L372.2,681.4L372.9,680.2L373.6,681.4L374.2,680.0L374.9,680.4L375.6,680.6L376.3,679.2L377.0,679.2L377.7,678.4L378.4,679.6L379.1,679.3L379.8,678.9L380.4,679.4L381.1,677.5L381.8,678.7L382.5,678.6L383.2,678.2L383.9,678.8L384.6,679.3L385.2,677.6L385.9,677.1L386.6,677.2L387.3,677.5L388.0,677.7L388.6,676.5L389.3,677.6L390.0,676.0L390.7,677.1L391.3,676.6L392.0,676.5L392.7,677.4L393.3,675.6L394.0,675.5L394.7,675.7L395.4,675.7L396.0,674.0L396.7,674.9L397.3,674.0L398.0,674.7L398.7,675.0L399.3,673.9L400.0,673.5L400.6,673.5L401.3,671.3L401.9,673.4L402.6,673.0L403.2,672.5L403.9,671.8L404.5,671.4L405.2,671.5L405.8,672.1L406.5,671.0L407.1,671.7L407.7,668.7L408.4,669.9L409.0,670.1L409.6,669.6L410.3,668.2L410.9,668.5L411.5,669.5L412.2,667.5L412.8,667.4L413.4,667.0L414.0,667.0L414.6,667.5L415.2,667.1L415.9,665.0L416.5,667.0L417.1,665.2L417.7,664.9L418.3,666.0L418.9,664.5L419.5,663.3L420.1,663.3L420.6,662.9L421.2,662.3L421.8,662.3L422.4,662.7L423.0,662.0L423.5,660.4L424.1,662.7L424.6,659.8L425.2,660.1L425.7,659.6L426.3,659.6L426.8,658.4L427.3,658.5L427.8,659.1L428.3,657.3L428.9,656.0L429.4,656.5L429.8,655.3L430.3,655.0L430.8,654.9L431.3,654.5L431.7,653.6L432.2,653.8L432.6,652.6L433.1,651.3L433.5,652.2L433.9,650.8L434.3,651.3L434.7,649.5L435.1,649.7L435.5,648.9L435.8,646.3L436.2,646.5L436.5,646.2L436.9,647.3L437.2,644.4L437.5,645.7L437.9,645.2L438.2,644.2L438.5,643.7L438.8,642.2L439.1,641.9L439.4,641.4L439.7,640.9L440.0,640.5L440.2,639.2L440.5,638.2L440.8,637.6L441.1,637.6L441.3,635.6L441.6,635.2L441.9,635.1L442.1,634.4L442.4,633.9L442.6,631.6L442.9,632.5L443.2,631.9L443.4,632.0L443.7,629.5L444.0,629.9L444.3,629.8L444.5,629.2L444.8,629.0L445.1,628.3L445.4,626.2L445.7,626.7L446.0,625.5L446.3,624.5L446.6,625.5L446.9,623.4L447.2,622.7L447.5,622.3L447.8,621.4L448.1,622.1L448.4,621.0L448.7,621.1L449.0,619.8L449.3,618.5L449.6,619.0L449.9,617.2L450.1,616.7L450.4,616.3L450.7,615.8L451.0,615.9L451.2,614.0L451.5,614.0L451.7,613.1L452.0,611.6L452.2,611.1L452.5,611.0L452.7,610.8L452.9,610.0L453.2,609.5L453.4,608.5L453.6,607.5L453.8,607.4L454.1,605.8L454.3,604.8L454.5,604.8L454.7,603.4L454.9,603.4L455.1,602.5L455.3,602.0L455.5,601.6L455.7,600.4L455.9,600.0L456.1,598.4L456.3,599.0L456.5,597.6L456.7,597.8L456.9,595.0L457.1,595.6L457.3,595.7L457.5,593.2L457.7,593.9L457.8,593.5L458.0,592.8L458.2,591.1L458.4,591.6L458.6,590.9L458.8,589.4L459.0,589.9L459.1,588.7L459.3,588.1L459.5,587.1L459.7,587.1L459.9,586.1L460.1,586.2L460.2,585.1L460.4,583.7L460.6,583.3L460.8,583.4L461.0,581.9L461.2,581.7L461.4,581.1L461.5,580.0L461.7,577.9L461.9,578.9L462.1,578.3L462.3,577.6L462.5,576.3L462.7,577.0L462.9,575.4L463.1,574.4L463.3,573.7L463.5,573.8L463.7,572.1L463.9,571.5L464.1,572.9L464.3,571.8L464.5,571.0L464.7,570.5L464.9,569.3L465.1,567.1L465.3,568.4L465.5,567.8L465.7,566.6L465.9,564.3L466.2,565.8L466.4,565.2L466.6,563.3L466.8,563.1L467.1,562.9L467.3,561.6L467.5,561.7L467.8,560.4L468.0,560.1L468.2,559.1L468.5,557.3L468.7,557.0L469.0,558.8L469.2,556.5L469.5,556.6L469.8,555.8L470.0,555.5L470.3,554.0L470.5,552.6L470.8,552.3L471.1,550.3L471.4,550.8L471.7,550.9L471.9,548.1L472.2,549.0L472.5,548.8L472.8,548.5L473.1,546.2L473.4,545.7L473.7,544.2L474.1,544.1L474.4,544.5L474.7,544.8L475.0,542.0L475.4,543.0L475.7,541.7L476.1,540.5L476.4,541.7L476.8,537.9L477.2,539.0L477.6,538.7L478.0,539.5L478.4,538.8L478.8,538.7L479.3,536.8L479.7,537.1L480.2,537.1L480.7,536.3L481.2,536.0L481.8,535.5L482.3,535.3L482.9,534.8L483.5,537.0L484.0,535.5L484.6,534.6L485.2,536.4L485.8,536.5L486.4,537.0L486.9,538.5L487.5,537.6L488.0,537.9L488.5,538.1L489.0,539.1L489.4,539.4L489.8,540.5L490.2,542.8L490.6,541.9L491.0,541.7L491.4,544.2L491.7,544.2L492.0,544.9L492.4,545.5L492.7,546.3L493.0,546.9L493.3,548.1L493.6,548.5L493.9,549.5L494.2,548.9L494.5,549.9L494.8,550.1L495.1,551.9L495.4,552.5L495.6,552.2L495.9,553.6L496.2,555.6L496.5,555.3L496.7,554.3L497.0,555.7L497.3,556.8L497.5,557.0L497.8,557.9L498.0,559.1L498.3,559.1L498.5,558.8L498.8,560.6L499.0,560.7L499.3,561.5L499.5,561.6L499.8,561.7L500.0,562.4L500.2,563.7L500.5,563.8L500.7,563.4L500.9,566.6L501.1,565.7L501.4,566.7L501.6,568.2L501.8,566.8L502.0,570.0L502.3,569.2L502.5,570.9L502.7,570.8L502.9,572.0L503.1,572.5L503.3,573.1L503.6,572.5L503.8,573.4L504.0,575.1L504.2,576.7L504.4,576.1L504.6,577.5L504.8,577.9L505.1,578.8L505.3,579.8L505.5,578.8L505.7,580.7L506.0,581.0L506.2,581.6L506.4,581.9L506.6,582.6L506.9,583.1L507.1,583.8L507.3,586.9L507.6,587.0L507.8,586.5L508.1,587.7L508.3,587.2L508.6,586.7L508.8,587.9L509.1,589.9L509.3,591.5L509.6,591.1L509.9,591.1L510.1,592.3L510.4,592.4L510.7,592.8L511.0,594.3L511.3,594.8L511.6,595.1L511.9,595.7L512.2,596.3L512.5,597.8L512.8,599.2L513.1,598.7L513.5,601.0L513.8,599.0L514.1,600.9L514.5,600.6L514.8,601.8L515.2,602.6L515.6,603.5L515.9,604.5L516.3,604.0L516.7,604.1L517.1,605.4L517.5,606.3L517.9,606.2L518.3,607.9L518.8,609.0L519.2,607.4L519.6,609.2L520.1,610.2L520.5,608.7L521.0,610.7L521.5,610.9L522.0,610.6L522.4,613.0L522.9,612.7L523.4,612.7L524.0,613.8L524.5,614.4L525.0,614.9L525.5,615.2L526.1,615.5L526.6,614.8L527.2,615.7L527.7,616.4L528.3,614.8L528.9,618.4L529.5,617.0L530.1,616.8L530.7,616.5L531.3,618.2L531.9,618.2L532.5,618.0L533.2,618.3L533.8,618.1L534.4,618.3L535.1,618.8L535.8,618.5L536.4,619.4L537.1,618.9L537.8,619.1L538.5,619.2L539.1,619.7L539.8,619.2L540.5,618.9L541.2,618.5L541.9,617.9L542.6,618.1L543.3,618.6L544.1,618.1L544.8,617.5L545.5,616.6L546.2,616.3L546.9,617.3L547.6,617.5L548.3,616.8L549.0,615.4L549.7,615.9L550.4,615.9L551.1,614.8L551.8,615.4L552.5,614.7L553.2,614.0L553.9,613.4L554.6,614.5L555.3,613.9L555.9,612.7L556.6,612.3L557.3,613.3L557.9,612.7L558.6,611.8L559.2,612.8L559.8,611.2L560.5,610.3L561.1,611.5L561.7,610.3L562.4,610.4L563.0,609.9L563.6,608.9L564.2,608.4L564.8,608.8L565.5,609.6L566.1,607.7L566.7,609.0L567.3,608.0L567.9,606.8L568.6,607.5L569.2,607.5L569.8,606.2L570.4,605.2L571.1,606.6L571.7,605.4L572.3,606.3L573.0,604.5L573.6,605.5L574.3,604.9L574.9,604.3L575.6,604.9L576.3,605.1L577.0,604.5L577.7,603.9L578.4,604.8L579.1,603.4L579.8,604.8L580.5,604.8L581.2,605.5L581.9,605.0L582.6,604.6L583.3,604.6L584.0,604.4L584.7,603.6L585.4,605.6L586.1,605.0L586.8,604.6L587.4,604.2L588.1,606.2L588.7,605.8L589.4,604.8L590.0,606.4L590.6,607.5L591.2,606.6L591.7,607.2L592.3,607.1L592.8,607.4L593.3,609.0L593.8,610.6L594.3,609.3L594.8,609.7L595.3,610.9L595.7,610.7L596.1,612.0L596.6,612.7L597.0,612.0L597.4,612.6L597.8,613.9L598.1,615.1L598.5,615.4L598.9,616.7L599.3,615.5L599.6,617.4L600.0,617.3L600.3,618.5L600.6,619.2L601.0,619.0L601.3,620.2L601.6,620.2L601.9,621.8L602.2,621.7L602.5,622.5L602.8,623.7L603.1,623.7L603.4,625.6L603.7,625.0L603.9,626.7L604.2,627.0L604.5,626.7L604.7,627.9L605.0,628.2L605.2,629.1L605.5,629.8L605.7,631.9L606.0,631.1L606.2,633.1L606.4,633.0L606.7,632.4L606.9,632.4L607.1,635.1L607.3,633.9L607.5,636.4L607.8,637.3L608.0,637.5L608.2,637.8L608.4,638.4L608.6,639.4L608.8,639.7L609.0,640.2L609.2,641.0L609.4,642.7L609.6,642.2L609.8,643.5L610.0,643.1L610.2,644.1L610.4,644.3L610.6,645.8L610.8,647.1L611.0,647.5L611.2,647.6L611.4,649.0L611.6,649.0L611.8,650.2L612.0,650.8L612.1,651.6L612.3,650.3L612.5,651.7L612.7,653.8L612.9,653.9L613.1,656.2L613.3,655.1L613.4,655.6L613.6,657.7L613.8,657.7L614.0,659.3L614.2,659.0L614.3,659.2L614.5,660.5L614.7,660.2L614.9,661.1L615.0,661.7L615.2,662.6L615.4,663.9L615.5,663.8L615.7,665.0L615.9,665.1L616.1,666.7L616.2,665.0L616.4,667.3L616.6,668.3L616.7,668.1L616.9,670.2L617.1,670.3L617.2,671.7L617.4,672.2L617.5,672.7L617.7,672.8L617.9,672.9L618.0,674.1L618.2,674.6L618.3,675.8L618.5,676.0L618.7,678.8L618.8,676.6L619.0,679.2L619.1,678.7L619.3,679.6L619.4,681.0L619.6,681.1L619.7,681.0L619.9,682.7L620.0,683.0L620.2,682.4L620.3,684.6L620.5,684.5L620.6,685.4L620.8,686.9L620.9,687.5L621.1,687.7L621.2,690.1L621.4,689.6L621.5,689.6L621.7,690.8L621.8,691.3L621.9,690.6L622.1,691.7L622.2,692.5L622.4,695.5L622.5,694.7L622.7,695.3L622.8,695.8L622.9,697.5L623.1,697.6L623.2,699.4L623.3,699.5L623.5,700.7L623.6,700.2L623.8,701.3L623.9,701.4L624.0,702.3L624.2,701.9L624.3,703.4L624.4,703.8L624.6,704.7L624.7,706.6L624.8,706.7L625.0,708.0L625.1,708.5L625.2,709.2L625.4,710.0L625.5,709.6L625.6,711.2L625.7,711.1L625.9,711.7L626.0,713.5L626.1,714.9L626.3,713.4L626.4,716.0L626.5,716.1L626.6,715.6L626.8,717.1L626.9,717.8L627.0,718.5L627.1,718.7L627.3,718.8L627.4,720.4L627.5,721.6L627.6,722.2L627.8,722.8L627.9,723.8L628.0,723.1L628.1,724.4L628.3,725.4L628.4,726.5L628.5,726.7L628.6,727.6L628.8,728.0L628.9,730.0L629.0,727.8L629.1,730.0L629.2,732.4L629.4,731.6L629.5,730.9L629.6,732.9L629.7,732.5L629.8,733.7L630.0,735.0L630.1,736.7L630.2,736.6L630.3,737.4L630.4,738.3L630.6,738.4L630.7,738.4L630.8,739.6L630.9,740.6L631.0,740.9L631.2,741.3L631.3,742.2L631.4,742.1L631.5,743.2L631.6,744.5L631.8,745.0L631.9,745.9L632.0,747.6L632.1,747.5L632.2,748.0L632.3,747.9L632.5,748.6L632.6,750.3L632.7,750.2L632.8,751.7L632.9,751.4L633.1,752.9L633.2,753.5L633.3,754.9L633.4,754.6L633.5,755.3L633.6,756.4L633.8,757.0L633.9,758.8L634.0,758.2L634.1,758.7L634.2,759.5L634.3,760.7L634.5,761.3L634.6,762.3L634.7,761.6L634.8,764.8L634.9,765.1L635.1,764.5L635.2,764.4L635.3,766.0L635.4,766.9L635.5,765.8L635.6,768.0L635.8,767.7L635.9,769.7L636.0,771.0L636.1,771.5L636.2,770.4L636.3,773.1L636.5,773.4L636.6,773.3L636.7,774.5L636.8,775.9L636.9,775.4L637.0,776.3L637.2,776.6L637.3,778.4L637.4,776.9L637.5,780.0L637.6,779.1L637.7,781.0L637.9,780.0L638.0,781.1L638.1,782.1L638.2,783.7L638.3,782.7L638.5,784.9L638.6,784.8L638.7,786.7L638.8,786.4L638.9,787.6L639.0,787.9L639.2,789.9L639.3,789.1L639.4,790.0L639.5,792.1L639.6,791.5L639.7,792.6L639.9,792.3L640.0,793.6L640.1,792.6L640.2,794.9L640.3,795.1L640.5,795.2L640.6,796.0L640.7,798.4L640.8,798.6L640.9,798.0L641.0,800.9L641.2,799.9L641.3,800.8L641.4,801.9L641.5,801.7L641.6,802.0L641.8,803.3L641.9,805.3L642.0,805.8L642.1,804.8L642.2,807.4L642.3,807.3L642.5,808.3L642.6,808.6L642.7,809.6L642.8,809.3L642.9,810.1L643.1,810.9L643.2,811.8L643.3,813.2L643.4,812.6L643.5,815.2L643.7,814.4L643.8,815.1L643.9,816.7L644.0,817.2L644.1,817.3L644.3,817.5L644.4,818.3L644.5,818.5L644.6,821.1L644.7,821.7L644.9,822.9L645.0,822.7L645.1,823.3L645.2,824.3L645.4,825.1L645.5,825.0L645.6,826.1L645.7,828.0L645.8,826.1L646.0,826.9L646.1,827.9L646.2,829.8L646.3,830.8L646.5,830.4L646.6,831.8L646.7,832.0L646.8,832.9L646.9,833.0L647.1,834.1L647.2,834.8L647.3,836.2L647.4,837.7L647.6,835.6L647.7,837.9L647.8,838.2L647.9,839.6L648.1,840.3L648.2,840.8L648.3,841.5L648.4,841.0L648.6,841.2L648.7,844.2L648.8,844.6L648.9,843.8L649.1,846.0L649.2,846.3L649.3,844.9L649.4,847.8L649.6,847.2L649.7,849.4L649.8,848.8L649.9,849.5L650.1,849.6L650.2,851.2L650.3,852.7L650.4,852.3L650.6,852.2L650.7,855.6L650.8,856.0L651.0,856.0L651.1,855.8L651.2,856.1L651.3,856.5L651.5,858.6L651.6,859.8L651.7,858.9L651.9,860.3L652.0,860.8L652.1,861.5L652.2,862.7L652.4,864.5L652.5,863.4L652.6,865.1L652.8,865.9L652.9,865.7L653.0,866.5L653.2,866.4L653.3,868.7L653.4,868.3L653.6,868.9L653.7,870.1L653.8,870.1L653.9,870.7L654.1,871.9L654.2,873.8L654.3,873.4L654.5,874.6L654.6,873.9L654.7,874.3L654.9,877.5L655.0,876.7L655.1,876.6L655.3,878.3L655.4,879.5L655.6,878.6L655.7,879.9L655.8,881.3L656.0,881.2L656.1,883.1L656.2,883.9L656.4,884.2L656.5,884.3L656.7,885.3L656.8,885.6L657.0,886.6L657.1,887.6L657.3,887.9L657.4,889.4L657.6,891.2L657.7,889.8L657.9,891.1L658.1,892.1L658.3,892.6L658.4,892.7L658.6,893.2L658.8,894.9L659.0,895.3L659.2,895.9L659.4,895.7L659.6,897.3L659.8,898.1L660.0,898.1L660.3,899.3L660.5,901.0L660.7,898.9L661.0,901.3L661.2,900.7L661.5,901.2L661.8,902.6L662.1,903.8L662.3,904.1L662.6,903.9L662.9,904.4L663.3,905.6L663.6,906.6L663.9,906.6L664.2,906.8L664.6,909.6L665.0,908.5L665.3,909.5L665.7,909.9L666.1,910.4L666.5,911.4L666.9,911.8L667.3,913.0L667.8,912.4L668.2,912.7L668.7,915.6L669.1,914.7L669.6,915.8L670.1,916.5L670.6,916.4L671.1,916.4L671.6,915.6L672.1,915.7L672.7,917.6L673.2,917.4L673.8,917.3L674.3,915.6L674.9,915.0L675.5,915.5L676.0,915.0L676.6,915.5L677.1,914.3L677.6,915.6L678.1,913.6L678.6,913.1L679.1,913.5L679.5,912.5L680.0,911.1L680.4,911.7L680.8,911.8L681.1,909.1L681.5,909.1L681.8,907.9L682.1,906.7L682.5,907.8L682.7,907.2L683.0,906.7L683.3,905.7L683.6,903.4L683.8,904.0L684.1,902.9L684.3,901.9L684.5,901.3L684.8,901.9L685.0,900.5L685.2,901.3L685.5,899.6L685.7,897.3L685.9,898.5L686.1,898.1L686.3,896.6L686.5,895.1L686.8,896.4L687.0,893.6L687.2,893.8L687.4,891.9L687.6,891.6L687.8,890.6L688.0,891.8L688.2,891.2L688.4,889.5L688.6,888.1L688.8,888.3L689.0,887.9L689.2,886.0L689.4,885.5L689.6,885.6L689.8,885.4L690.0,884.3L690.2,883.9L690.3,882.0L690.5,880.5L690.7,881.7L690.9,880.2L691.1,880.1L691.3,879.2L691.5,879.1L691.6,877.6L691.8,878.4L692.0,876.8L692.2,876.4L692.4,875.8L692.5,875.4L692.7,874.3L692.9,872.1L693.1,872.2L693.2,873.2L693.4,871.6L693.6,871.0L693.8,870.2L693.9,868.8L694.1,868.1L694.3,867.4L694.5,868.0L694.6,866.8L694.8,867.1L695.0,865.5L695.2,865.8L695.3,864.1L695.5,862.3L695.7,863.6L695.9,862.0L696.0,861.9L696.2,860.6L696.4,859.5L696.5,859.2L696.7,857.6L696.9,856.9L697.1,856.4L697.2,856.0L697.4,854.7L697.6,854.9L697.8,854.5L697.9,855.1L698.1,854.2L698.3,852.3L698.5,852.2L698.7,850.8L698.8,850.6L699.0,849.6L699.2,848.6L699.4,848.3L699.6,846.6L699.7,847.3L699.9,846.1L700.1,844.9L700.3,844.7L700.5,844.7L700.7,843.1L700.8,843.3L701.0,842.7L701.2,842.7L701.4,840.2L701.6,840.2L701.8,840.0L702.0,840.0L702.2,838.5L702.4,838.2L702.6,836.0L702.8,835.9L703.0,836.8L703.2,834.8L703.4,835.8L703.6,833.2L703.8,832.8L704.0,831.3L704.2,832.2L704.4,831.2L704.6,831.8L704.8,829.9L705.0,828.9L705.2,827.4L705.4,827.7L705.6,827.8L705.8,827.0L706.0,826.6L706.2,825.7L706.4,824.4L706.7,824.2L706.9,823.3L707.1,821.6L707.3,823.0L707.5,821.4L707.7,819.8L707.9,820.1L708.1,819.4L708.3,819.2L708.5,818.9L708.7,815.4L708.9,816.9L709.2,816.9L709.4,814.6L709.6,813.3L709.8,814.1L710.0,813.4L710.2,812.8L710.4,811.1L710.6,810.9L710.8,810.7L711.0,810.4L711.2,810.7L711.4,808.7L711.6,807.4L711.8,805.5L712.0,807.3L712.2,805.7L712.4,805.1L712.7,803.8L712.9,804.3L713.1,801.9L713.3,802.5L713.5,801.9L713.7,801.3L713.9,801.3L714.1,799.7L714.3,799.1L714.5,799.0L714.7,796.6L714.9,796.8L715.1,796.4L715.3,796.3L715.5,794.4L715.7,794.8L715.9,793.9L716.1,791.9L716.3,791.2L716.5,790.6L716.7,791.0L717.0,790.3L717.2,790.0L717.4,789.4L717.6,787.8L717.8,788.2L718.0,787.4L718.2,786.4L718.4,785.8L718.7,783.9L718.9,784.3L719.1,782.7L719.3,781.9L719.5,781.8L719.8,781.5L720.0,780.6L720.2,779.8L720.4,778.6L720.7,778.8L720.9,777.5L721.1,776.3L721.4,776.7L721.6,777.0L721.8,775.0L722.1,773.9L722.3,774.9L722.6,774.5L722.8,772.4L723.0,771.8L723.3,771.5L723.5,772.5L723.8,770.1L724.0,770.0L724.3,769.0L724.6,766.7L724.8,766.6L725.1,765.8L725.3,766.4L725.6,765.5L725.9,766.0L726.1,763.9L726.4,763.7L726.7,762.9L727.0,762.3L727.3,763.1L727.5,761.1L727.8,761.3L728.1,760.5L728.4,758.6L728.7,758.8L729.0,757.4L729.3,757.2L729.6,756.6L729.9,755.8L730.2,754.9L730.5,755.7L730.8,753.8L731.2,753.8L731.5,753.9L731.8,752.6L732.1,752.2L732.5,751.9L732.8,751.1L733.1,750.9L733.5,748.1L733.8,749.9L734.2,747.9L734.5,746.1L734.9,746.3L735.2,745.2L735.6,745.5L736.0,743.9L736.3,743.7L736.7,744.0L737.1,743.4L737.5,742.1L737.9,741.9L738.3,741.5L738.7,741.0L739.0,740.4L739.5,739.7L739.9,739.9L740.3,737.6L740.7,737.9L741.1,737.8L741.5,736.8L742.0,736.2L742.4,735.7L742.8,735.7L743.3,735.9L743.7,734.3L744.2,733.8L744.6,733.7L745.1,732.7L745.5,731.0L746.0,732.1L746.5,731.1L747.0,730.5L747.4,730.8L747.9,729.9L748.4,729.0L748.9,727.4L749.4,727.2L749.9,728.0L750.4,727.4L750.9,727.3L751.5,726.7L752.0,725.7L752.5,724.7L753.0,724.4L753.6,724.6L754.1,723.4L754.6,724.3L755.2,722.4L755.7,721.7L756.3,722.4L756.8,720.8L757.4,722.8L758.0,720.5L758.5,720.8L759.1,720.2L759.7,719.4L760.2,718.3L760.8,717.8L761.4,719.4L762.0,719.1L762.6,719.5L763.2,716.5L763.8,717.6L764.3,716.8L764.9,717.0L765.5,715.7L766.2,716.2L766.8,716.0L767.4,715.4L768.0,715.6L768.6,714.1L769.2,715.0L769.8,713.1L770.5,714.4L771.1,711.1L771.7,712.6L772.3,711.7L773.0,711.9L773.6,712.3L774.2,711.8L774.9,711.0L775.5,711.8L776.2,709.3L776.8,709.5L777.5,710.8L778.1,709.7L778.7,707.7L779.4,709.1L780.1,707.8L780.7,709.4L781.4,708.9L782.0,707.4L782.7,708.5L783.3,706.7L784.0,707.7L784.7,707.2L785.3,706.5L786.0,705.3L786.7,705.9L787.3,704.3L788.0,705.2L788.7,704.1L789.3,706.1L790.0,704.3L790.7,703.1L791.3,705.0L792.0,704.6L792.7,703.8L793.4,705.5L794.0,704.4L794.7,703.7L795.4,703.0L796.1,701.5L796.7,703.5L797.4,703.6L798.1,702.4L798.8,701.6L799.5,702.4L800.1,701.1L800.8,702.2L801.5,702.6L802.2,702.9L802.9,701.9L803.6,701.7L804.2,702.0L804.9,702.3L805.6,701.0L806.3,700.2L807.0,700.4L807.7,700.0L808.4,700.1L809.1,700.6L809.7,700.8L810.4,700.5L811.1,700.4L811.8,700.0L812.5,700.4L813.2,700.6L813.9,700.5L814.6,700.9L815.3,699.5L816.0,699.5L816.7,700.8L817.4,699.6L818.1,699.7L818.8,699.1L819.4,699.9L820.1,698.9L820.8,698.4L821.5,699.0L822.2,698.6L822.9,699.5L823.6,698.5L824.3,698.8L825.0,698.5L825.7,698.9L826.4,698.1L827.1,699.3L827.8,697.4L828.5,698.1L829.2,697.8L829.9,698.7L830.6,698.2L831.3,698.5L832.0,697.8L832.7,697.5L833.4,697.2L834.1,697.7L834.8,697.5L835.5,698.0L836.2,698.0L836.9,698.4L837.6,697.6L838.3,697.1L839.0,696.8L839.7,697.5L840.4,697.7L841.1,698.8L841.8,697.5L842.5,698.5L843.2,698.6L843.9,696.5L844.6,698.0L845.3,697.9L846.0,698.0L846.7,697.0L847.4,697.6L848.1,696.6L848.8,696.8L849.5,696.8L850.2,698.0L850.9,696.6L851.6,697.4L852.3,696.7L853.0,696.1L853.7,696.7L854.4,697.0L855.1,696.0L855.8,696.9L856.5,695.9L857.2,695.7L857.9,696.5L858.6,696.1L859.3,695.5L860.0,695.0L860.7,696.2L861.4,696.3L862.1,695.7L862.8,696.2L863.5,694.9L864.2,696.2L864.9,696.2L865.6,696.1L866.3,695.4L867.0,695.9L867.7,695.9L868.4,696.5L869.1,695.9L869.8,695.8L870.5,695.1L871.2,696.2L871.9,696.4L872.6,695.2L873.3,695.9L874.0,695.7L874.7,695.4L875.4,694.5L876.1,696.6L876.8,694.0L877.5,695.5L878.2,695.0L878.9,696.0L879.5,694.9L880.2,695.2L880.9,695.6L881.6,695.4L882.3,694.7L883.0,695.5L883.7,695.3L884.4,695.7L885.1,694.6L885.8,694.9L886.5,694.6L887.2,694.3L887.9,695.0L888.6,695.1L889.3,695.8L890.0,694.5L890.7,695.0L891.4,695.5L892.1,694.6L892.8,694.7L893.5,694.7L894.2,694.1L894.9,693.9L895.6,695.3L896.3,694.7L897.0,694.5L897.7,693.6L898.4,694.6L899.1,695.3L899.8,693.6L900.5,693.8L901.2,695.2L901.9,695.4L902.6,695.4L903.3,693.9L904.0,694.7L904.7,693.8L905.4,694.6L906.1,694.0L906.8,694.4L907.5,695.1L908.2,694.4L908.9,694.0L909.6,694.2L910.3,694.3L911.0,693.8L911.7,694.2L912.4,694.5L913.1,695.1L913.8,692.6L914.5,693.2L915.2,693.1L915.9,694.6L916.6,695.7L917.3,694.1L918.0,694.0L918.7,694.7L919.4,692.2L920.1,693.8L920.8,692.1L921.5,694.0L922.2,693.5L922.9,693.5L923.6,694.1L924.3,693.4L925.0,694.6L925.7,693.8L926.4,694.0L927.1,695.5L927.8,693.4L928.5,694.4L929.2,693.2L929.9,694.6L930.6,694.4L931.3,693.8L932.0,694.4L932.7,694.8L933.4,694.6L934.1,693.7L934.8,693.6L935.5,694.4L936.3,692.6L937.0,693.2L937.7,693.9L938.4,694.0L939.1,694.9L939.8,694.8L940.5,693.8L941.2,693.9L941.9,692.6L942.6,693.4L943.3,693.7L944.0,693.4L944.7,693.6L945.4,693.9L946.1,692.9L946.8,693.1L947.5,692.3L948.2,694.3L948.9,692.8L949.6,692.3L950.3,694.0L951.0,693.3L951.7,694.1L952.4,693.2L953.1,694.9L953.8,694.0L954.5,693.6L955.2,693.5L955.9,693.3L956.6,694.0L957.3,694.8L958.0,693.1L958.7,692.7L959.4,693.8L960.1,694.2L960.8,692.4L961.5,692.9L962.2,692.7L962.9,693.8L963.6,693.8L964.3,692.9L965.0,692.6L965.7,693.9L966.4,692.0L967.1,693.9L967.8,693.3L968.5,694.7L969.2,694.1L969.9,693.0L970.6,693.2L971.3,693.2L972.0,692.9L972.7,693.5L973.4,694.1L974.1,692.4L974.8,693.3L975.5,694.4L976.2,693.9L976.9,692.9L977.6,692.9L978.3,692.8L979.0,692.3L979.7,694.2L980.4,693.5L981.1,692.9L981.8,692.4L982.5,693.2L983.2,693.1L983.9,694.6L984.6,693.1L985.3,693.5L986.0,694.2L986.7,693.9L987.4,693.3L988.1,691.9L988.8,694.4L989.5,693.9L990.2,693.2L990.9,693.4L991.6,692.8L992.3,692.9L993.0,692.5L993.7,693.8L994.4,693.8L995.1,693.6L995.8,694.0L996.5,693.9L997.2,693.6L997.9,692.9L998.6,693.9L999.3,694.3L1000.0,694.0L1000.7,694.4L1001.4,693.2L1002.1,692.9L1002.8,694.4L1003.5,693.2L1004.2,693.7L1004.9,693.4L1005.6,693.6L1006.3,693.4L1007.0,693.2L1007.7,692.4L1008.4,694.9L1009.1,693.7L1009.8,692.3L1010.5,693.0L1011.2,692.8L1011.9,693.1L1012.6,691.9L1013.3,694.0L1014.0,694.8L1014.7,693.5L1015.4,694.2L1016.1,694.1L1016.8,692.8L1017.5,694.5L1018.2,692.5L1018.9,693.3L1019.6,693.5L1020.3,694.6L1021.0,693.8L1021.7,693.6L1022.4,693.2L1023.1,693.8L1023.8,693.8L1024.5,694.3L1025.2,694.7L1025.9,694.3L1026.6,693.8L1027.3,693.7L1028.0,694.9L1028.7,694.0L1029.4,693.8L1030.1,695.1L1030.8,694.9L1031.5,694.2L1032.2,693.8L1032.9,693.4L1033.6,694.6L1034.3,693.6L1035.0,694.6" fill="none" stroke="#f00" stroke-width="3.7" stroke-linejoin="round"/>
<line x1="119.6" y1="49.8" x2="119.6" y2="484.40000000000003" stroke="#000" stroke-width="2.3"/>
<line x1="109.1" y1="68.36" x2="119.6" y2="68.36" stroke="#000" stroke-width="2.2"/>
<line x1="109.1" y1="135.78" x2="119.6" y2="135.78" stroke="#000" stroke-width="2.2"/>
<line x1="109.1" y1="203.2" x2="119.6" y2="203.2" stroke="#000" stroke-width="2.2"/>
<line x1="109.1" y1="270.62" x2="119.6" y2="270.62" stroke="#000" stroke-width="2.2"/>
<line x1="109.1" y1="338.04" x2="119.6" y2="338.04" stroke="#000" stroke-width="2.2"/>
<line x1="109.1" y1="405.46" x2="119.6" y2="405.46" stroke="#000" stroke-width="2.2"/>
<line x1="109.1" y1="472.88" x2="119.6" y2="472.88" stroke="#000" stroke-width="2.2"/>
<line x1="114.1" y1="102.07" x2="119.6" y2="102.07" stroke="#000" stroke-width="2.2"/>
<line x1="114.1" y1="169.49" x2="119.6" y2="169.49" stroke="#000" stroke-width="2.2"/>
<line x1="114.1" y1="236.91" x2="119.6" y2="236.91" stroke="#000" stroke-width="2.2"/>
<line x1="114.1" y1="304.33" x2="119.6" y2="304.33" stroke="#000" stroke-width="2.2"/>
<line x1="114.1" y1="371.75" x2="119.6" y2="371.75" stroke="#000" stroke-width="2.2"/>
<line x1="114.1" y1="439.17" x2="119.6" y2="439.17" stroke="#000" stroke-width="2.2"/>
<text transform="translate(102.60,75.66) scale(1,1.035)" text-anchor="end" font-size="22" stroke="#000" stroke-width="0.3"> .0</text>
<path transform="translate(72.02,75.66) scale(0.01074,-0.01074)" d="M763,0L583,0L583,1147Q518,1085 415,1024Q312,963 223,930L223,1104Q374,1175 487,1276Q600,1377 647,1472L763,1472Z" stroke="#000" stroke-width="27.9"/>
<text transform="translate(102.60,143.08) scale(1,1.035)" text-anchor="end" font-size="22" stroke="#000" stroke-width="0.3">0.5</text>
<text transform="translate(102.60,210.50) scale(1,1.035)" text-anchor="end" font-size="22" stroke="#000" stroke-width="0.3">0.0</text>
<text transform="translate(102.60,277.92) scale(1,1.035)" text-anchor="end" font-size="22" stroke="#000" stroke-width="0.3">-0.5</text>
<text transform="translate(102.60,345.34) scale(1,1.035)" text-anchor="end" font-size="22" stroke="#000" stroke-width="0.3">- .0</text>
<path transform="translate(72.02,345.34) scale(0.01074,-0.01074)" d="M763,0L583,0L583,1147Q518,1085 415,1024Q312,963 223,930L223,1104Q374,1175 487,1276Q600,1377 647,1472L763,1472Z" stroke="#000" stroke-width="27.9"/>
<text transform="translate(102.60,412.76) scale(1,1.035)" text-anchor="end" font-size="22" stroke="#000" stroke-width="0.3">- .5</text>
<path transform="translate(72.02,412.76) scale(0.01074,-0.01074)" d="M763,0L583,0L583,1147Q518,1085 415,1024Q312,963 223,930L223,1104Q374,1175 487,1276Q600,1377 647,1472L763,1472Z" stroke="#000" stroke-width="27.9"/>
<text transform="translate(102.60,480.18) scale(1,1.035)" text-anchor="end" font-size="22" stroke="#000" stroke-width="0.3">-2.0</text>
<line x1="1028.9" y1="49.8" x2="1028.9" y2="483.3" stroke="#000" stroke-width="2.2"/>
<line x1="118.5" y1="483.3" x2="1030.0" y2="483.3" stroke="#000" stroke-width="2.3"/>
<line x1="271.18" y1="483.3" x2="271.18" y2="493.6" stroke="#000" stroke-width="2.2"/>
<line x1="650.13" y1="483.3" x2="650.13" y2="493.6" stroke="#000" stroke-width="2.2"/>
<line x1="1029.08" y1="483.3" x2="1029.08" y2="493.6" stroke="#000" stroke-width="2.2"/>
<line x1="460.65" y1="483.3" x2="460.65" y2="488.6" stroke="#000" stroke-width="2.2"/>
<line x1="839.6" y1="483.3" x2="839.6" y2="488.6" stroke="#000" stroke-width="2.2"/>
<text transform="translate(271.18,517.90) scale(1,1.035)" text-anchor="middle" font-size="22" stroke="#000" stroke-width="0.3">329.0</text>
<text transform="translate(650.13,517.90) scale(1,1.035)" text-anchor="middle" font-size="22" stroke="#000" stroke-width="0.3">329.5</text>
<text transform="translate(1029.08,517.90) scale(1,1.035)" text-anchor="middle" font-size="22" stroke="#000" stroke-width="0.3">330.0</text>
<line x1="119.6" y1="517.3" x2="119.6" y2="992.6" stroke="#000" stroke-width="2.3"/>
<line x1="109.1" y1="535.1" x2="119.6" y2="535.1" stroke="#000" stroke-width="2.2"/>
<line x1="109.1" y1="613.1" x2="119.6" y2="613.1" stroke="#000" stroke-width="2.2"/>
<line x1="109.1" y1="691.1" x2="119.6" y2="691.1" stroke="#000" stroke-width="2.2"/>
<line x1="109.1" y1="769.1" x2="119.6" y2="769.1" stroke="#000" stroke-width="2.2"/>
<line x1="109.1" y1="847.1" x2="119.6" y2="847.1" stroke="#000" stroke-width="2.2"/>
<line x1="109.1" y1="925.1" x2="119.6" y2="925.1" stroke="#000" stroke-width="2.2"/>
<line x1="114.1" y1="574.1" x2="119.6" y2="574.1" stroke="#000" stroke-width="2.2"/>
<line x1="114.1" y1="652.1" x2="119.6" y2="652.1" stroke="#000" stroke-width="2.2"/>
<line x1="114.1" y1="730.1" x2="119.6" y2="730.1" stroke="#000" stroke-width="2.2"/>
<line x1="114.1" y1="808.1" x2="119.6" y2="808.1" stroke="#000" stroke-width="2.2"/>
<line x1="114.1" y1="886.1" x2="119.6" y2="886.1" stroke="#000" stroke-width="2.2"/>
<line x1="114.1" y1="964.1" x2="119.6" y2="964.1" stroke="#000" stroke-width="2.2"/>
<text transform="translate(101.90,542.10) scale(1,1.06)" text-anchor="end" font-size="22.7" stroke="#000" stroke-width="0.3"> .0</text>
<path transform="translate(70.34,542.10) scale(0.01108,-0.01136)" d="M763,0L583,0L583,1147Q518,1085 415,1024Q312,963 223,930L223,1104Q374,1175 487,1276Q600,1377 647,1472L763,1472Z" stroke="#000" stroke-width="27.1"/>
<text transform="translate(101.90,620.10) scale(1,1.06)" text-anchor="end" font-size="22.7" stroke="#000" stroke-width="0.3">0.5</text>
<text transform="translate(101.90,698.10) scale(1,1.06)" text-anchor="end" font-size="22.7" stroke="#000" stroke-width="0.3">0.0</text>
<text transform="translate(101.90,776.10) scale(1,1.06)" text-anchor="end" font-size="22.7" stroke="#000" stroke-width="0.3">-0.5</text>
<text transform="translate(101.90,854.10) scale(1,1.06)" text-anchor="end" font-size="22.7" stroke="#000" stroke-width="0.3">- .0</text>
<path transform="translate(70.34,854.10) scale(0.01108,-0.01136)" d="M763,0L583,0L583,1147Q518,1085 415,1024Q312,963 223,930L223,1104Q374,1175 487,1276Q600,1377 647,1472L763,1472Z" stroke="#000" stroke-width="27.1"/>
<text transform="translate(101.90,932.10) scale(1,1.06)" text-anchor="end" font-size="22.7" stroke="#000" stroke-width="0.3">- .5</text>
<path transform="translate(70.34,932.10) scale(0.01108,-0.01136)" d="M763,0L583,0L583,1147Q518,1085 415,1024Q312,963 223,930L223,1104Q374,1175 487,1276Q600,1377 647,1472L763,1472Z" stroke="#000" stroke-width="27.1"/>
<line x1="118.5" y1="991.5" x2="1036.6" y2="991.5" stroke="#000" stroke-width="2.3"/>
<line x1="119.6" y1="991.5" x2="119.6" y2="1001.8" stroke="#000" stroke-width="2.2"/>
<line x1="424.8" y1="991.5" x2="424.8" y2="1001.8" stroke="#000" stroke-width="2.2"/>
<line x1="730.0" y1="991.5" x2="730.0" y2="1001.8" stroke="#000" stroke-width="2.2"/>
<line x1="1035.2" y1="991.5" x2="1035.2" y2="1001.8" stroke="#000" stroke-width="2.2"/>
<line x1="272.2" y1="991.5" x2="272.2" y2="996.8" stroke="#000" stroke-width="2.2"/>
<line x1="577.4" y1="991.5" x2="577.4" y2="996.8" stroke="#000" stroke-width="2.2"/>
<line x1="882.6" y1="991.5" x2="882.6" y2="996.8" stroke="#000" stroke-width="2.2"/>
<text transform="translate(119.60,1027.60) scale(1,1.06)" text-anchor="middle" font-size="22.7" stroke="#000" stroke-width="0.3">328.8</text>
<text transform="translate(424.80,1027.60) scale(1,1.06)" text-anchor="middle" font-size="22.7" stroke="#000" stroke-width="0.3">329.2</text>
<text transform="translate(730.00,1027.60) scale(1,1.06)" text-anchor="middle" font-size="22.7" stroke="#000" stroke-width="0.3">329.6</text>
<text transform="translate(1035.20,1027.60) scale(1,1.06)" text-anchor="middle" font-size="22.7" stroke="#000" stroke-width="0.3">330.0</text>
<line x1="1035.5" y1="517.3" x2="1035.5" y2="991.5" stroke="#000" stroke-width="2.2"/>
<text transform="translate(177.00,324.80)" font-size="43.8">475°C annealing</text>
<text transform="translate(143.80,817.20)" font-size="46">Before annealing</text>
<text transform="translate(390.10,1071.30)" font-size="36.08">Magnetic Field (mT)</text>
<text transform="translate(24.30,671.70) rotate(-90)" font-size="33.35">Derivative of absorbance (a.u)</text>
<rect x="658" y="0" width="297.5" height="74.4" fill="#fff"/>
<rect x="657.2" y="0" width="1.7" height="74.9" fill="#707070"/>
<rect x="657.2" y="0" width="298.8" height="1.7" fill="#707070"/>
<rect x="955" y="0" width="1" height="74.9" fill="#000"/>
<rect x="657.2" y="73.9" width="298.8" height="1" fill="#000"/>
<line x1="660.6" y1="20" x2="726.2" y2="20" stroke="#000" stroke-width="3.2" stroke-linecap="round"/>
<line x1="660.6" y1="55.4" x2="726.2" y2="55.4" stroke="#f00" stroke-width="3.2" stroke-linecap="round"/>
<text transform="translate(732.70,29.90) scale(1,1.04)" font-size="28.2">P5T 000    GGy</text>
<path transform="translate(784.42,29.90) scale(0.01377,-0.01377)" d="M763,0L583,0L583,1147Q518,1085 415,1024Q312,963 223,930L223,1104Q374,1175 487,1276Q600,1377 647,1472L763,1472Z"/>
<path transform="translate(854.99,29.90) scale(0.01377,-0.01377)" d="M763,0L583,0L583,1147Q518,1085 415,1024Q312,963 223,930L223,1104Q374,1175 487,1276Q600,1377 647,1472L763,1472Z"/>
<path transform="translate(870.67,29.90) scale(0.01377,-0.01377)" d="M763,0L583,0L583,1147Q518,1085 415,1024Q312,963 223,930L223,1104Q374,1175 487,1276Q600,1377 647,1472L763,1472Z"/>
<text transform="translate(732.70,64.90) scale(1,1.04)" fill="#f00" font-size="28.2">P5T350  0 MGy</text>
<path transform="translate(839.30,64.90) scale(0.01377,-0.01377)" d="M763,0L583,0L583,1147Q518,1085 415,1024Q312,963 223,930L223,1104Q374,1175 487,1276Q600,1377 647,1472L763,1472Z" fill="#f00"/></svg>
</body></html>
